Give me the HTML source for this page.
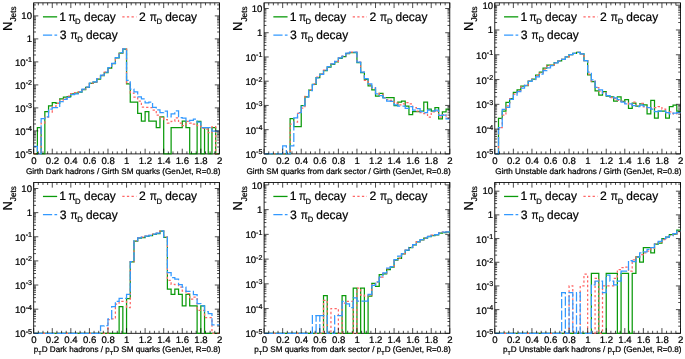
<!DOCTYPE html>
<html><head><meta charset="utf-8"><title>chart</title>
<style>html,body{margin:0;padding:0;background:#fff;}text{stroke:#000;stroke-width:0.22px}svg{display:block;will-change:transform;text-rendering:geometricPrecision;-webkit-font-smoothing:antialiased}</style></head>
<body><svg width="685" height="359" viewBox="0 0 685 359">
<rect width="685" height="359" fill="#fff"/>
<clipPath id="c1"><rect x="32.7" y="2.85" width="187.7" height="151.85000000000002"/></clipPath>
<rect x="33.7" y="2.85" width="185.7" height="151.05" fill="none" stroke="#000" stroke-width="0.85"/>
<g clip-path="url(#c1)" fill="none" stroke-linejoin="miter">
<path d="M33.70,153.90L37.41,153.90L37.41,127.50L41.13,127.50L41.13,153.90L44.84,153.90L44.84,111.70L48.56,111.70L48.56,105.90L52.27,105.90L52.27,102.50L55.98,102.50L55.98,103.40L59.70,103.40L59.70,98.90L63.41,98.90L63.41,97.10L67.13,97.10L67.13,96.50L70.84,96.50L70.84,93.90L74.55,93.90L74.55,93.00L78.27,93.00L78.27,92.20L81.98,92.20L81.98,89.50L85.70,89.50L85.70,87.40L89.41,87.40L89.41,83.40L93.12,83.40L93.12,82.20L96.84,82.20L96.84,79.00L100.55,79.00L100.55,75.50L104.27,75.50L104.27,72.50L107.98,72.50L107.98,68.10L111.69,68.10L111.69,63.70L115.41,63.70L115.41,57.90L119.12,57.90L119.12,53.00L122.84,53.00L122.84,49.20L126.55,49.20L126.55,83.90L130.26,83.90L130.26,102.00L133.98,102.00L133.98,102.00L137.69,102.00L137.69,113.40L141.41,113.40L141.41,121.00L145.12,121.00L145.12,111.70L148.83,111.70L148.83,121.00L152.55,121.00L152.55,121.00L156.26,121.00L156.26,127.50L159.98,127.50L159.98,116.90L163.69,116.90L163.69,153.90L167.40,153.90L167.40,153.90L171.12,153.90L171.12,127.50L174.83,127.50L174.83,127.50L178.55,127.50L178.55,127.50L182.26,127.50L182.26,121.00L185.97,121.00L185.97,127.50L189.69,127.50L189.69,153.90L193.40,153.90L193.40,153.90L197.12,153.90L197.12,121.30L200.83,121.30L200.83,153.90L204.54,153.90L204.54,127.50L208.26,127.50L208.26,153.90L211.97,153.90L211.97,127.50L215.69,127.50L215.69,153.90L219.40,153.90" stroke="#0a9a0a" stroke-width="1.25"/>
<path d="M33.70,153.90L37.41,153.90L37.41,153.90L41.13,153.90L41.13,123.00L44.84,123.00L44.84,117.00L48.56,117.00L48.56,112.00L52.27,112.00L52.27,106.40L55.98,106.40L55.98,103.40L59.70,103.40L59.70,100.00L63.41,100.00L63.41,98.30L67.13,98.30L67.13,96.10L70.84,96.10L70.84,93.50L74.55,93.50L74.55,92.60L78.27,92.60L78.27,91.80L81.98,91.80L81.98,89.10L85.70,89.10L85.70,87.00L89.41,87.00L89.41,83.00L93.12,83.00L93.12,81.80L96.84,81.80L96.84,78.60L100.55,78.60L100.55,75.10L104.27,75.10L104.27,72.10L107.98,72.10L107.98,67.70L111.69,67.70L111.69,63.30L115.41,63.30L115.41,57.50L119.12,57.50L119.12,52.60L122.84,52.60L122.84,48.80L126.55,48.80L126.55,83.00L130.26,83.00L130.26,93.00L133.98,93.00L133.98,97.00L137.69,97.00L137.69,101.00L141.41,101.00L141.41,107.00L145.12,107.00L145.12,107.30L148.83,107.30L148.83,107.60L152.55,107.60L152.55,110.00L156.26,110.00L156.26,115.20L159.98,115.20L159.98,117.00L163.69,117.00L163.69,119.60L167.40,119.60L167.40,123.00L171.12,123.00L171.12,121.30L174.83,121.30L174.83,117.80L178.55,117.80L178.55,123.00L182.26,123.00L182.26,125.70L185.97,125.70L185.97,121.30L189.69,121.30L189.69,123.00L193.40,123.00L193.40,124.00L197.12,124.00L197.12,125.70L200.83,125.70L200.83,128.30L204.54,128.30L204.54,129.20L208.26,129.20L208.26,132.70L211.97,132.70L211.97,126.60L215.69,126.60L215.69,153.90L219.40,153.90" stroke="#ff6666" stroke-width="1.25" stroke-dasharray="2.3,2.3"/>
<path d="M33.70,146.40L37.41,146.40L37.41,153.90L41.13,153.90L41.13,118.70L44.84,118.70L44.84,116.90L48.56,116.90L48.56,109.00L52.27,109.00L52.27,107.60L55.98,107.60L55.98,107.60L59.70,107.60L59.70,101.70L63.41,101.70L63.41,99.40L67.13,99.40L67.13,97.30L70.84,97.30L70.84,94.70L74.55,94.70L74.55,93.80L78.27,93.80L78.27,91.80L81.98,91.80L81.98,89.10L85.70,89.10L85.70,87.00L89.41,87.00L89.41,83.00L93.12,83.00L93.12,81.80L96.84,81.80L96.84,78.60L100.55,78.60L100.55,75.10L104.27,75.10L104.27,72.10L107.98,72.10L107.98,67.70L111.69,67.70L111.69,63.30L115.41,63.30L115.41,57.50L119.12,57.50L119.12,52.60L122.84,52.60L122.84,48.80L126.55,48.80L126.55,80.40L130.26,80.40L130.26,89.10L133.98,89.10L133.98,91.80L137.69,91.80L137.69,96.80L141.41,96.80L141.41,98.90L145.12,98.90L145.12,102.90L148.83,102.90L148.83,102.00L152.55,102.00L152.55,107.30L156.26,107.30L156.26,109.90L159.98,109.90L159.98,112.50L163.69,112.50L163.69,111.10L167.40,111.10L167.40,116.90L171.12,116.90L171.12,113.90L174.83,113.90L174.83,110.80L178.55,110.80L178.55,117.50L182.26,117.50L182.26,118.20L185.97,118.20L185.97,121.00L189.69,121.00L189.69,120.40L193.40,120.40L193.40,119.20L197.12,119.20L197.12,122.20L200.83,122.20L200.83,127.50L204.54,127.50L204.54,127.50L208.26,127.50L208.26,127.50L211.97,127.50L211.97,131.00L215.69,131.00L215.69,131.00L219.40,131.00" stroke="#3399ff" stroke-width="1.25" stroke-dasharray="9.2,2.3"/>
</g>
<path d="M33.70,153.9v-5.2M33.70,2.85v5.2M38.34,153.9v-2.5M38.34,2.85v2.5M42.98,153.9v-2.5M42.98,2.85v2.5M47.63,153.9v-2.5M47.63,2.85v2.5M52.27,153.9v-5.2M52.27,2.85v5.2M56.91,153.9v-2.5M56.91,2.85v2.5M61.55,153.9v-2.5M61.55,2.85v2.5M66.20,153.9v-2.5M66.20,2.85v2.5M70.84,153.9v-5.2M70.84,2.85v5.2M75.48,153.9v-2.5M75.48,2.85v2.5M80.12,153.9v-2.5M80.12,2.85v2.5M84.77,153.9v-2.5M84.77,2.85v2.5M89.41,153.9v-5.2M89.41,2.85v5.2M94.05,153.9v-2.5M94.05,2.85v2.5M98.69,153.9v-2.5M98.69,2.85v2.5M103.34,153.9v-2.5M103.34,2.85v2.5M107.98,153.9v-5.2M107.98,2.85v5.2M112.62,153.9v-2.5M112.62,2.85v2.5M117.27,153.9v-2.5M117.27,2.85v2.5M121.91,153.9v-2.5M121.91,2.85v2.5M126.55,153.9v-5.2M126.55,2.85v5.2M131.19,153.9v-2.5M131.19,2.85v2.5M135.83,153.9v-2.5M135.83,2.85v2.5M140.48,153.9v-2.5M140.48,2.85v2.5M145.12,153.9v-5.2M145.12,2.85v5.2M149.76,153.9v-2.5M149.76,2.85v2.5M154.41,153.9v-2.5M154.41,2.85v2.5M159.05,153.9v-2.5M159.05,2.85v2.5M163.69,153.9v-5.2M163.69,2.85v5.2M168.33,153.9v-2.5M168.33,2.85v2.5M172.98,153.9v-2.5M172.98,2.85v2.5M177.62,153.9v-2.5M177.62,2.85v2.5M182.26,153.9v-5.2M182.26,2.85v5.2M186.90,153.9v-2.5M186.90,2.85v2.5M191.54,153.9v-2.5M191.54,2.85v2.5M196.19,153.9v-2.5M196.19,2.85v2.5M200.83,153.9v-5.2M200.83,2.85v5.2M205.47,153.9v-2.5M205.47,2.85v2.5M210.12,153.9v-2.5M210.12,2.85v2.5M214.76,153.9v-2.5M214.76,2.85v2.5M219.40,153.9v-5.2M219.40,2.85v5.2M33.7,153.90h4.6M219.39999999999998,153.90h-4.6M33.7,146.98h2.3M219.39999999999998,146.98h-2.3M33.7,142.93h2.3M219.39999999999998,142.93h-2.3M33.7,140.05h2.3M219.39999999999998,140.05h-2.3M33.7,137.82h2.3M219.39999999999998,137.82h-2.3M33.7,136.00h2.3M219.39999999999998,136.00h-2.3M33.7,134.46h2.3M219.39999999999998,134.46h-2.3M33.7,133.13h2.3M219.39999999999998,133.13h-2.3M33.7,131.95h2.3M219.39999999999998,131.95h-2.3M33.7,130.90h4.6M219.39999999999998,130.90h-4.6M33.7,123.98h2.3M219.39999999999998,123.98h-2.3M33.7,119.93h2.3M219.39999999999998,119.93h-2.3M33.7,117.05h2.3M219.39999999999998,117.05h-2.3M33.7,114.82h2.3M219.39999999999998,114.82h-2.3M33.7,113.00h2.3M219.39999999999998,113.00h-2.3M33.7,111.46h2.3M219.39999999999998,111.46h-2.3M33.7,110.13h2.3M219.39999999999998,110.13h-2.3M33.7,108.95h2.3M219.39999999999998,108.95h-2.3M33.7,107.90h4.6M219.39999999999998,107.90h-4.6M33.7,100.98h2.3M219.39999999999998,100.98h-2.3M33.7,96.93h2.3M219.39999999999998,96.93h-2.3M33.7,94.05h2.3M219.39999999999998,94.05h-2.3M33.7,91.82h2.3M219.39999999999998,91.82h-2.3M33.7,90.00h2.3M219.39999999999998,90.00h-2.3M33.7,88.46h2.3M219.39999999999998,88.46h-2.3M33.7,87.13h2.3M219.39999999999998,87.13h-2.3M33.7,85.95h2.3M219.39999999999998,85.95h-2.3M33.7,84.90h4.6M219.39999999999998,84.90h-4.6M33.7,77.98h2.3M219.39999999999998,77.98h-2.3M33.7,73.93h2.3M219.39999999999998,73.93h-2.3M33.7,71.05h2.3M219.39999999999998,71.05h-2.3M33.7,68.82h2.3M219.39999999999998,68.82h-2.3M33.7,67.00h2.3M219.39999999999998,67.00h-2.3M33.7,65.46h2.3M219.39999999999998,65.46h-2.3M33.7,64.13h2.3M219.39999999999998,64.13h-2.3M33.7,62.95h2.3M219.39999999999998,62.95h-2.3M33.7,61.90h4.6M219.39999999999998,61.90h-4.6M33.7,54.98h2.3M219.39999999999998,54.98h-2.3M33.7,50.93h2.3M219.39999999999998,50.93h-2.3M33.7,48.05h2.3M219.39999999999998,48.05h-2.3M33.7,45.82h2.3M219.39999999999998,45.82h-2.3M33.7,44.00h2.3M219.39999999999998,44.00h-2.3M33.7,42.46h2.3M219.39999999999998,42.46h-2.3M33.7,41.13h2.3M219.39999999999998,41.13h-2.3M33.7,39.95h2.3M219.39999999999998,39.95h-2.3M33.7,38.90h4.6M219.39999999999998,38.90h-4.6M33.7,31.98h2.3M219.39999999999998,31.98h-2.3M33.7,27.93h2.3M219.39999999999998,27.93h-2.3M33.7,25.05h2.3M219.39999999999998,25.05h-2.3M33.7,22.82h2.3M219.39999999999998,22.82h-2.3M33.7,21.00h2.3M219.39999999999998,21.00h-2.3M33.7,19.46h2.3M219.39999999999998,19.46h-2.3M33.7,18.13h2.3M219.39999999999998,18.13h-2.3M33.7,16.95h2.3M219.39999999999998,16.95h-2.3M33.7,15.90h4.6M219.39999999999998,15.90h-4.6M33.7,8.98h2.3M219.39999999999998,8.98h-2.3M33.7,4.93h2.3M219.39999999999998,4.93h-2.3" stroke="#000" stroke-width="0.7" fill="none"/>
<text x="33.90" y="163.80" font-size="9.6" text-anchor="middle" font-family="Liberation Sans, sans-serif">0</text>
<text x="52.47" y="163.80" font-size="9.6" text-anchor="middle" font-family="Liberation Sans, sans-serif">0.2</text>
<text x="71.04" y="163.80" font-size="9.6" text-anchor="middle" font-family="Liberation Sans, sans-serif">0.4</text>
<text x="89.61" y="163.80" font-size="9.6" text-anchor="middle" font-family="Liberation Sans, sans-serif">0.6</text>
<text x="108.18" y="163.80" font-size="9.6" text-anchor="middle" font-family="Liberation Sans, sans-serif">0.8</text>
<text x="126.75" y="163.80" font-size="9.6" text-anchor="middle" font-family="Liberation Sans, sans-serif">1</text>
<text x="145.32" y="163.80" font-size="9.6" text-anchor="middle" font-family="Liberation Sans, sans-serif">1.2</text>
<text x="163.89" y="163.80" font-size="9.6" text-anchor="middle" font-family="Liberation Sans, sans-serif">1.4</text>
<text x="182.46" y="163.80" font-size="9.6" text-anchor="middle" font-family="Liberation Sans, sans-serif">1.6</text>
<text x="201.03" y="163.80" font-size="9.6" text-anchor="middle" font-family="Liberation Sans, sans-serif">1.8</text>
<text x="219.60" y="163.80" font-size="9.6" text-anchor="middle" font-family="Liberation Sans, sans-serif">2</text>
<text x="32.00" y="157.90" font-size="9.6" text-anchor="end" font-family="Liberation Sans, sans-serif">10<tspan font-size="7.1" dy="-3.6">-5</tspan></text>
<text x="32.00" y="134.90" font-size="9.6" text-anchor="end" font-family="Liberation Sans, sans-serif">10<tspan font-size="7.1" dy="-3.6">-4</tspan></text>
<text x="32.00" y="111.90" font-size="9.6" text-anchor="end" font-family="Liberation Sans, sans-serif">10<tspan font-size="7.1" dy="-3.6">-3</tspan></text>
<text x="32.00" y="88.90" font-size="9.6" text-anchor="end" font-family="Liberation Sans, sans-serif">10<tspan font-size="7.1" dy="-3.6">-2</tspan></text>
<text x="32.00" y="65.90" font-size="9.6" text-anchor="end" font-family="Liberation Sans, sans-serif">10<tspan font-size="7.1" dy="-3.6">-1</tspan></text>
<text x="32.00" y="41.90" font-size="9.6" text-anchor="end" font-family="Liberation Sans, sans-serif">1</text>
<text x="32.00" y="18.90" font-size="9.6" text-anchor="end" font-family="Liberation Sans, sans-serif">10</text>
<text x="220.40" y="174.20" font-size="8.15" text-anchor="end" font-family="Liberation Sans, sans-serif">Girth Dark hadrons / Girth SM quarks (GenJet, R=0.8)</text>
<text transform="translate(11.70,31.00) rotate(-90)" font-size="13" font-family="Liberation Sans, sans-serif">N<tspan font-size="8.3" dy="4.4">Jets</tspan></text>
<line x1="42.95" y1="16.85" x2="57.15" y2="16.85" stroke="#0a9a0a" stroke-width="1.3" /><text x="59.30" y="20.75" font-size="12.2" font-family="Liberation Sans, sans-serif">1</text><text x="68.50" y="20.75" font-size="12.2" textLength="7.1" lengthAdjust="spacingAndGlyphs" font-family="Liberation Sans, sans-serif">π</text><text x="75.10" y="24.15" font-size="7.7" font-family="Liberation Sans, sans-serif">D</text><text x="84.00" y="20.75" font-size="12.2" textLength="31.8" lengthAdjust="spacingAndGlyphs" font-family="Liberation Sans, sans-serif">decay</text>
<line x1="122.30" y1="16.85" x2="136.50" y2="16.85" stroke="#ff6666" stroke-width="1.3" stroke-dasharray="2.3,2.3"/><text x="139.00" y="20.75" font-size="12.2" font-family="Liberation Sans, sans-serif">2</text><text x="149.70" y="20.75" font-size="12.2" textLength="7.1" lengthAdjust="spacingAndGlyphs" font-family="Liberation Sans, sans-serif">π</text><text x="156.60" y="24.15" font-size="7.7" font-family="Liberation Sans, sans-serif">D</text><text x="165.20" y="20.75" font-size="12.2" textLength="31.8" lengthAdjust="spacingAndGlyphs" font-family="Liberation Sans, sans-serif">decay</text>
<line x1="42.95" y1="35.10" x2="57.15" y2="35.10" stroke="#3399ff" stroke-width="1.3" stroke-dasharray="9.2,2.3"/><text x="59.70" y="39.00" font-size="12.2" font-family="Liberation Sans, sans-serif">3</text><text x="70.40" y="39.00" font-size="12.2" textLength="7.1" lengthAdjust="spacingAndGlyphs" font-family="Liberation Sans, sans-serif">π</text><text x="77.30" y="42.40" font-size="7.7" font-family="Liberation Sans, sans-serif">D</text><text x="85.90" y="39.00" font-size="12.2" textLength="31.8" lengthAdjust="spacingAndGlyphs" font-family="Liberation Sans, sans-serif">decay</text>
<clipPath id="c2"><rect x="263.1" y="2.85" width="187.7" height="151.85000000000002"/></clipPath>
<rect x="264.1" y="2.85" width="185.7" height="151.05" fill="none" stroke="#000" stroke-width="0.85"/>
<g clip-path="url(#c2)" fill="none" stroke-linejoin="miter">
<path d="M264.10,153.90L267.81,153.90L267.81,153.90L271.53,153.90L271.53,153.90L275.24,153.90L275.24,153.90L278.96,153.90L278.96,153.90L282.67,153.90L282.67,153.90L286.38,153.90L286.38,153.90L290.10,153.90L290.10,118.70L293.81,118.70L293.81,126.60L297.53,126.60L297.53,126.60L301.24,126.60L301.24,105.50L304.95,105.50L304.95,96.90L308.67,96.90L308.67,90.20L312.38,90.20L312.38,84.30L316.10,84.30L316.10,77.60L319.81,77.60L319.81,74.10L323.52,74.10L323.52,70.60L327.24,70.60L327.24,67.10L330.95,67.10L330.95,64.40L334.67,64.40L334.67,61.80L338.38,61.80L338.38,58.30L342.09,58.30L342.09,56.60L345.81,56.60L345.81,53.60L349.52,53.60L349.52,52.50L353.24,52.50L353.24,52.50L356.95,52.50L356.95,62.70L360.66,62.70L360.66,72.70L364.38,72.70L364.38,79.40L368.09,79.40L368.09,85.90L371.81,85.90L371.81,89.90L375.52,89.90L375.52,96.10L379.23,96.10L379.23,93.40L382.95,93.40L382.95,97.50L386.66,97.50L386.66,97.50L390.38,97.50L390.38,97.50L394.09,97.50L394.09,105.70L397.80,105.70L397.80,102.20L401.52,102.20L401.52,101.00L405.23,101.00L405.23,106.20L408.95,106.20L408.95,114.50L412.66,114.50L412.66,111.50L416.37,111.50L416.37,111.50L420.09,111.50L420.09,111.00L423.80,111.00L423.80,102.20L427.52,102.20L427.52,109.20L431.23,109.20L431.23,111.00L434.94,111.00L434.94,107.50L438.66,107.50L438.66,118.90L442.37,118.90L442.37,111.80L446.09,111.80L446.09,109.20L449.80,109.20" stroke="#0a9a0a" stroke-width="1.25"/>
<path d="M264.10,153.90L267.81,153.90L267.81,153.90L271.53,153.90L271.53,153.90L275.24,153.90L275.24,153.90L278.96,153.90L278.96,153.90L282.67,153.90L282.67,153.90L286.38,153.90L286.38,153.90L290.10,153.90L290.10,124.00L293.81,124.00L293.81,122.00L297.53,122.00L297.53,113.40L301.24,113.40L301.24,108.00L304.95,108.00L304.95,96.40L308.67,96.40L308.67,89.70L312.38,89.70L312.38,83.80L316.10,83.80L316.10,77.10L319.81,77.10L319.81,73.60L323.52,73.60L323.52,70.10L327.24,70.10L327.24,66.60L330.95,66.60L330.95,63.90L334.67,63.90L334.67,61.30L338.38,61.30L338.38,57.80L342.09,57.80L342.09,56.10L345.81,56.10L345.81,53.10L349.52,53.10L349.52,52.00L353.24,52.00L353.24,52.00L356.95,52.00L356.95,62.20L360.66,62.20L360.66,72.20L364.38,72.20L364.38,80.30L368.09,80.30L368.09,84.60L371.81,84.60L371.81,88.20L375.52,88.20L375.52,93.40L379.23,93.40L379.23,94.30L382.95,94.30L382.95,97.50L386.66,97.50L386.66,99.60L390.38,99.60L390.38,100.40L394.09,100.40L394.09,103.10L397.80,103.10L397.80,104.80L401.52,104.80L401.52,103.90L405.23,103.90L405.23,102.70L408.95,102.70L408.95,103.90L412.66,103.90L412.66,107.50L416.37,107.50L416.37,111.00L420.09,111.00L420.09,112.70L423.80,112.70L423.80,113.60L427.52,113.60L427.52,117.10L431.23,117.10L431.23,111.80L434.94,111.80L434.94,111.00L438.66,111.00L438.66,117.10L442.37,117.10L442.37,114.50L446.09,114.50L446.09,118.00L449.80,118.00" stroke="#ff6666" stroke-width="1.25" stroke-dasharray="2.3,2.3"/>
<path d="M264.10,153.90L267.81,153.90L267.81,153.90L271.53,153.90L271.53,153.90L275.24,153.90L275.24,153.90L278.96,153.90L278.96,153.90L282.67,153.90L282.67,145.90L286.38,145.90L286.38,153.90L290.10,153.90L290.10,145.90L293.81,145.90L293.81,117.80L297.53,117.80L297.53,112.50L301.24,112.50L301.24,105.50L304.95,105.50L304.95,97.20L308.67,97.20L308.67,90.50L312.38,90.50L312.38,84.60L316.10,84.60L316.10,77.90L319.81,77.90L319.81,74.40L323.52,74.40L323.52,70.10L327.24,70.10L327.24,66.60L330.95,66.60L330.95,63.90L334.67,63.90L334.67,61.30L338.38,61.30L338.38,57.80L342.09,57.80L342.09,56.10L345.81,56.10L345.81,53.10L349.52,53.10L349.52,52.00L353.24,52.00L353.24,52.00L356.95,52.00L356.95,62.20L360.66,62.20L360.66,72.20L364.38,72.20L364.38,78.50L368.09,78.50L368.09,83.80L371.81,83.80L371.81,87.60L375.52,87.60L375.52,93.90L379.23,93.90L379.23,95.70L382.95,95.70L382.95,97.80L386.66,97.80L386.66,101.00L390.38,101.00L390.38,101.30L394.09,101.30L394.09,104.80L397.80,104.80L397.80,106.20L401.52,106.20L401.52,106.20L405.23,106.20L405.23,108.30L408.95,108.30L408.95,106.60L412.66,106.60L412.66,110.10L416.37,110.10L416.37,108.70L420.09,108.70L420.09,111.50L423.80,111.50L423.80,112.70L427.52,112.70L427.52,110.10L431.23,110.10L431.23,111.00L434.94,111.00L434.94,110.10L438.66,110.10L438.66,115.40L442.37,115.40L442.37,115.00L446.09,115.00L446.09,118.90L449.80,118.90" stroke="#3399ff" stroke-width="1.25" stroke-dasharray="9.2,2.3"/>
</g>
<path d="M264.10,153.9v-5.2M264.10,2.85v5.2M268.74,153.9v-2.5M268.74,2.85v2.5M273.39,153.9v-2.5M273.39,2.85v2.5M278.03,153.9v-2.5M278.03,2.85v2.5M282.67,153.9v-5.2M282.67,2.85v5.2M287.31,153.9v-2.5M287.31,2.85v2.5M291.96,153.9v-2.5M291.96,2.85v2.5M296.60,153.9v-2.5M296.60,2.85v2.5M301.24,153.9v-5.2M301.24,2.85v5.2M305.88,153.9v-2.5M305.88,2.85v2.5M310.53,153.9v-2.5M310.53,2.85v2.5M315.17,153.9v-2.5M315.17,2.85v2.5M319.81,153.9v-5.2M319.81,2.85v5.2M324.45,153.9v-2.5M324.45,2.85v2.5M329.10,153.9v-2.5M329.10,2.85v2.5M333.74,153.9v-2.5M333.74,2.85v2.5M338.38,153.9v-5.2M338.38,2.85v5.2M343.02,153.9v-2.5M343.02,2.85v2.5M347.67,153.9v-2.5M347.67,2.85v2.5M352.31,153.9v-2.5M352.31,2.85v2.5M356.95,153.9v-5.2M356.95,2.85v5.2M361.59,153.9v-2.5M361.59,2.85v2.5M366.24,153.9v-2.5M366.24,2.85v2.5M370.88,153.9v-2.5M370.88,2.85v2.5M375.52,153.9v-5.2M375.52,2.85v5.2M380.16,153.9v-2.5M380.16,2.85v2.5M384.81,153.9v-2.5M384.81,2.85v2.5M389.45,153.9v-2.5M389.45,2.85v2.5M394.09,153.9v-5.2M394.09,2.85v5.2M398.73,153.9v-2.5M398.73,2.85v2.5M403.38,153.9v-2.5M403.38,2.85v2.5M408.02,153.9v-2.5M408.02,2.85v2.5M412.66,153.9v-5.2M412.66,2.85v5.2M417.30,153.9v-2.5M417.30,2.85v2.5M421.94,153.9v-2.5M421.94,2.85v2.5M426.59,153.9v-2.5M426.59,2.85v2.5M431.23,153.9v-5.2M431.23,2.85v5.2M435.87,153.9v-2.5M435.87,2.85v2.5M440.51,153.9v-2.5M440.51,2.85v2.5M445.16,153.9v-2.5M445.16,2.85v2.5M449.80,153.9v-5.2M449.80,2.85v5.2M264.1,153.90h4.6M449.8,153.90h-4.6M264.1,146.61h2.3M449.8,146.61h-2.3M264.1,142.34h2.3M449.8,142.34h-2.3M264.1,139.31h2.3M449.8,139.31h-2.3M264.1,136.96h2.3M449.8,136.96h-2.3M264.1,135.04h2.3M449.8,135.04h-2.3M264.1,133.42h2.3M449.8,133.42h-2.3M264.1,132.02h2.3M449.8,132.02h-2.3M264.1,130.78h2.3M449.8,130.78h-2.3M264.1,129.67h4.6M449.8,129.67h-4.6M264.1,122.37h2.3M449.8,122.37h-2.3M264.1,118.10h2.3M449.8,118.10h-2.3M264.1,115.08h2.3M449.8,115.08h-2.3M264.1,112.73h2.3M449.8,112.73h-2.3M264.1,110.81h2.3M449.8,110.81h-2.3M264.1,109.19h2.3M449.8,109.19h-2.3M264.1,107.78h2.3M449.8,107.78h-2.3M264.1,106.54h2.3M449.8,106.54h-2.3M264.1,105.43h4.6M449.8,105.43h-4.6M264.1,98.14h2.3M449.8,98.14h-2.3M264.1,93.87h2.3M449.8,93.87h-2.3M264.1,90.84h2.3M449.8,90.84h-2.3M264.1,88.49h2.3M449.8,88.49h-2.3M264.1,86.58h2.3M449.8,86.58h-2.3M264.1,84.95h2.3M449.8,84.95h-2.3M264.1,83.55h2.3M449.8,83.55h-2.3M264.1,82.31h2.3M449.8,82.31h-2.3M264.1,81.20h4.6M449.8,81.20h-4.6M264.1,73.91h2.3M449.8,73.91h-2.3M264.1,69.64h2.3M449.8,69.64h-2.3M264.1,66.61h2.3M449.8,66.61h-2.3M264.1,64.26h2.3M449.8,64.26h-2.3M264.1,62.34h2.3M449.8,62.34h-2.3M264.1,60.72h2.3M449.8,60.72h-2.3M264.1,59.32h2.3M449.8,59.32h-2.3M264.1,58.08h2.3M449.8,58.08h-2.3M264.1,56.97h4.6M449.8,56.97h-4.6M264.1,49.67h2.3M449.8,49.67h-2.3M264.1,45.40h2.3M449.8,45.40h-2.3M264.1,42.38h2.3M449.8,42.38h-2.3M264.1,40.03h2.3M449.8,40.03h-2.3M264.1,38.11h2.3M449.8,38.11h-2.3M264.1,36.49h2.3M449.8,36.49h-2.3M264.1,35.08h2.3M449.8,35.08h-2.3M264.1,33.84h2.3M449.8,33.84h-2.3M264.1,32.73h4.6M449.8,32.73h-4.6M264.1,25.44h2.3M449.8,25.44h-2.3M264.1,21.17h2.3M449.8,21.17h-2.3M264.1,18.14h2.3M449.8,18.14h-2.3M264.1,15.79h2.3M449.8,15.79h-2.3M264.1,13.88h2.3M449.8,13.88h-2.3M264.1,12.25h2.3M449.8,12.25h-2.3M264.1,10.85h2.3M449.8,10.85h-2.3M264.1,9.61h2.3M449.8,9.61h-2.3M264.1,8.50h4.6M449.8,8.50h-4.6" stroke="#000" stroke-width="0.7" fill="none"/>
<text x="264.30" y="163.80" font-size="9.6" text-anchor="middle" font-family="Liberation Sans, sans-serif">0</text>
<text x="282.87" y="163.80" font-size="9.6" text-anchor="middle" font-family="Liberation Sans, sans-serif">0.2</text>
<text x="301.44" y="163.80" font-size="9.6" text-anchor="middle" font-family="Liberation Sans, sans-serif">0.4</text>
<text x="320.01" y="163.80" font-size="9.6" text-anchor="middle" font-family="Liberation Sans, sans-serif">0.6</text>
<text x="338.58" y="163.80" font-size="9.6" text-anchor="middle" font-family="Liberation Sans, sans-serif">0.8</text>
<text x="357.15" y="163.80" font-size="9.6" text-anchor="middle" font-family="Liberation Sans, sans-serif">1</text>
<text x="375.72" y="163.80" font-size="9.6" text-anchor="middle" font-family="Liberation Sans, sans-serif">1.2</text>
<text x="394.29" y="163.80" font-size="9.6" text-anchor="middle" font-family="Liberation Sans, sans-serif">1.4</text>
<text x="412.86" y="163.80" font-size="9.6" text-anchor="middle" font-family="Liberation Sans, sans-serif">1.6</text>
<text x="431.43" y="163.80" font-size="9.6" text-anchor="middle" font-family="Liberation Sans, sans-serif">1.8</text>
<text x="450.00" y="163.80" font-size="9.6" text-anchor="middle" font-family="Liberation Sans, sans-serif">2</text>
<text x="262.40" y="157.90" font-size="9.6" text-anchor="end" font-family="Liberation Sans, sans-serif">10<tspan font-size="7.1" dy="-3.6">-5</tspan></text>
<text x="262.40" y="133.67" font-size="9.6" text-anchor="end" font-family="Liberation Sans, sans-serif">10<tspan font-size="7.1" dy="-3.6">-4</tspan></text>
<text x="262.40" y="109.43" font-size="9.6" text-anchor="end" font-family="Liberation Sans, sans-serif">10<tspan font-size="7.1" dy="-3.6">-3</tspan></text>
<text x="262.40" y="85.20" font-size="9.6" text-anchor="end" font-family="Liberation Sans, sans-serif">10<tspan font-size="7.1" dy="-3.6">-2</tspan></text>
<text x="262.40" y="60.97" font-size="9.6" text-anchor="end" font-family="Liberation Sans, sans-serif">10<tspan font-size="7.1" dy="-3.6">-1</tspan></text>
<text x="262.40" y="35.73" font-size="9.6" text-anchor="end" font-family="Liberation Sans, sans-serif">1</text>
<text x="262.40" y="11.50" font-size="9.6" text-anchor="end" font-family="Liberation Sans, sans-serif">10</text>
<text x="450.80" y="174.20" font-size="8.15" text-anchor="end" font-family="Liberation Sans, sans-serif">Girth SM quarks from dark sector / Girth (GenJet, R=0.8)</text>
<text transform="translate(242.10,31.00) rotate(-90)" font-size="13" font-family="Liberation Sans, sans-serif">N<tspan font-size="8.3" dy="4.4">Jets</tspan></text>
<line x1="273.35" y1="16.85" x2="287.55" y2="16.85" stroke="#0a9a0a" stroke-width="1.3" /><text x="289.70" y="20.75" font-size="12.2" font-family="Liberation Sans, sans-serif">1</text><text x="298.90" y="20.75" font-size="12.2" textLength="7.1" lengthAdjust="spacingAndGlyphs" font-family="Liberation Sans, sans-serif">π</text><text x="305.50" y="24.15" font-size="7.7" font-family="Liberation Sans, sans-serif">D</text><text x="314.40" y="20.75" font-size="12.2" textLength="31.8" lengthAdjust="spacingAndGlyphs" font-family="Liberation Sans, sans-serif">decay</text>
<line x1="352.70" y1="16.85" x2="366.90" y2="16.85" stroke="#ff6666" stroke-width="1.3" stroke-dasharray="2.3,2.3"/><text x="369.40" y="20.75" font-size="12.2" font-family="Liberation Sans, sans-serif">2</text><text x="380.10" y="20.75" font-size="12.2" textLength="7.1" lengthAdjust="spacingAndGlyphs" font-family="Liberation Sans, sans-serif">π</text><text x="387.00" y="24.15" font-size="7.7" font-family="Liberation Sans, sans-serif">D</text><text x="395.60" y="20.75" font-size="12.2" textLength="31.8" lengthAdjust="spacingAndGlyphs" font-family="Liberation Sans, sans-serif">decay</text>
<line x1="273.35" y1="35.10" x2="287.55" y2="35.10" stroke="#3399ff" stroke-width="1.3" stroke-dasharray="9.2,2.3"/><text x="290.10" y="39.00" font-size="12.2" font-family="Liberation Sans, sans-serif">3</text><text x="300.80" y="39.00" font-size="12.2" textLength="7.1" lengthAdjust="spacingAndGlyphs" font-family="Liberation Sans, sans-serif">π</text><text x="307.70" y="42.40" font-size="7.7" font-family="Liberation Sans, sans-serif">D</text><text x="316.30" y="39.00" font-size="12.2" textLength="31.8" lengthAdjust="spacingAndGlyphs" font-family="Liberation Sans, sans-serif">decay</text>
<clipPath id="c3"><rect x="493.8" y="2.85" width="187.7" height="151.85000000000002"/></clipPath>
<rect x="494.8" y="2.85" width="185.7" height="151.05" fill="none" stroke="#000" stroke-width="0.85"/>
<g clip-path="url(#c3)" fill="none" stroke-linejoin="miter">
<path d="M494.80,153.90L498.51,153.90L498.51,118.30L502.23,118.30L502.23,111.10L505.94,111.10L505.94,102.40L509.66,102.40L509.66,98.50L513.37,98.50L513.37,92.40L517.08,92.40L517.08,89.80L520.80,89.80L520.80,86.20L524.51,86.20L524.51,85.70L528.23,85.70L528.23,81.00L531.94,81.00L531.94,79.20L535.65,79.20L535.65,75.20L539.37,75.20L539.37,72.20L543.08,72.20L543.08,68.20L546.80,68.20L546.80,65.20L550.51,65.20L550.51,65.20L554.22,65.20L554.22,62.60L557.94,62.60L557.94,60.80L561.65,60.80L561.65,59.40L565.37,59.40L565.37,56.90L569.08,56.90L569.08,54.70L572.79,54.70L572.79,53.40L576.51,53.40L576.51,52.40L580.22,52.40L580.22,53.80L583.94,53.80L583.94,60.50L587.65,60.50L587.65,74.80L591.36,74.80L591.36,81.70L595.08,81.70L595.08,90.80L598.79,90.80L598.79,95.20L602.51,95.20L602.51,91.70L606.22,91.70L606.22,96.10L609.93,96.10L609.93,96.90L613.65,96.90L613.65,101.00L617.36,101.00L617.36,96.90L621.08,96.90L621.08,101.30L624.79,101.30L624.79,99.60L628.50,99.60L628.50,108.30L632.22,108.30L632.22,103.10L635.93,103.10L635.93,106.20L639.65,106.20L639.65,103.90L643.36,103.90L643.36,104.80L647.07,104.80L647.07,113.90L650.79,113.90L650.79,100.40L654.50,100.40L654.50,118.00L658.22,118.00L658.22,111.00L661.93,111.00L661.93,111.00L665.64,111.00L665.64,118.00L669.36,118.00L669.36,106.60L673.07,106.60L673.07,105.20L676.79,105.20L676.79,111.00L680.50,111.00" stroke="#0a9a0a" stroke-width="1.25"/>
<path d="M494.80,153.90L498.51,153.90L498.51,127.50L502.23,127.50L502.23,115.20L505.94,115.20L505.94,105.90L509.66,105.90L509.66,98.50L513.37,98.50L513.37,94.10L517.08,94.10L517.08,90.60L520.80,90.60L520.80,86.80L524.51,86.80L524.51,85.00L528.23,85.00L528.23,81.00L531.94,81.00L531.94,79.20L535.65,79.20L535.65,75.70L539.37,75.70L539.37,73.10L543.08,73.10L543.08,69.20L546.80,69.20L546.80,65.70L550.51,65.70L550.51,65.20L554.22,65.20L554.22,62.60L557.94,62.60L557.94,60.80L561.65,60.80L561.65,59.40L565.37,59.40L565.37,56.90L569.08,56.90L569.08,54.70L572.79,54.70L572.79,53.40L576.51,53.40L576.51,52.40L580.22,52.40L580.22,53.80L583.94,53.80L583.94,60.50L587.65,60.50L587.65,74.00L591.36,74.00L591.36,81.10L595.08,81.10L595.08,87.60L598.79,87.60L598.79,91.10L602.51,91.10L602.51,92.50L606.22,92.50L606.22,95.70L609.93,95.70L609.93,97.50L613.65,97.50L613.65,98.70L617.36,98.70L617.36,100.40L621.08,100.40L621.08,101.30L624.79,101.30L624.79,103.10L628.50,103.10L628.50,104.50L632.22,104.50L632.22,102.20L635.93,102.20L635.93,105.70L639.65,105.70L639.65,103.40L643.36,103.40L643.36,106.90L647.07,106.90L647.07,108.30L650.79,108.30L650.79,107.50L654.50,107.50L654.50,107.50L658.22,107.50L658.22,106.60L661.93,106.60L661.93,109.20L665.64,109.20L665.64,112.70L669.36,112.70L669.36,111.80L673.07,111.80L673.07,113.90L676.79,113.90L676.79,113.20L680.50,113.20" stroke="#ff6666" stroke-width="1.25" stroke-dasharray="2.3,2.3"/>
<path d="M494.80,153.90L498.51,153.90L498.51,127.50L502.23,127.50L502.23,109.40L505.94,109.40L505.94,107.30L509.66,107.30L509.66,99.40L513.37,99.40L513.37,95.00L517.08,95.00L517.08,91.50L520.80,91.50L520.80,88.00L524.51,88.00L524.51,85.40L528.23,85.40L528.23,81.30L531.94,81.30L531.94,79.60L535.65,79.60L535.65,76.90L539.37,76.90L539.37,74.00L543.08,74.00L543.08,70.50L546.80,70.50L546.80,67.80L550.51,67.80L550.51,65.50L554.22,65.50L554.22,62.90L557.94,62.90L557.94,61.00L561.65,61.00L561.65,59.40L565.37,59.40L565.37,56.90L569.08,56.90L569.08,54.70L572.79,54.70L572.79,53.40L576.51,53.40L576.51,52.40L580.22,52.40L580.22,53.80L583.94,53.80L583.94,60.50L587.65,60.50L587.65,72.20L591.36,72.20L591.36,79.90L595.08,79.90L595.08,87.30L598.79,87.30L598.79,89.90L602.51,89.90L602.51,93.40L606.22,93.40L606.22,95.70L609.93,95.70L609.93,96.90L613.65,96.90L613.65,97.80L617.36,97.80L617.36,99.60L621.08,99.60L621.08,102.20L624.79,102.20L624.79,103.90L628.50,103.90L628.50,103.90L632.22,103.90L632.22,105.70L635.93,105.70L635.93,106.60L639.65,106.60L639.65,105.20L643.36,105.20L643.36,106.20L647.07,106.20L647.07,107.50L650.79,107.50L650.79,109.20L654.50,109.20L654.50,111.50L658.22,111.50L658.22,111.00L661.93,111.00L661.93,111.00L665.64,111.00L665.64,112.70L669.36,112.70L669.36,113.90L673.07,113.90L673.07,113.20L676.79,113.20L676.79,112.70L680.50,112.70" stroke="#3399ff" stroke-width="1.25" stroke-dasharray="9.2,2.3"/>
</g>
<path d="M494.80,153.9v-5.2M494.80,2.85v5.2M499.44,153.9v-2.5M499.44,2.85v2.5M504.09,153.9v-2.5M504.09,2.85v2.5M508.73,153.9v-2.5M508.73,2.85v2.5M513.37,153.9v-5.2M513.37,2.85v5.2M518.01,153.9v-2.5M518.01,2.85v2.5M522.65,153.9v-2.5M522.65,2.85v2.5M527.30,153.9v-2.5M527.30,2.85v2.5M531.94,153.9v-5.2M531.94,2.85v5.2M536.58,153.9v-2.5M536.58,2.85v2.5M541.23,153.9v-2.5M541.23,2.85v2.5M545.87,153.9v-2.5M545.87,2.85v2.5M550.51,153.9v-5.2M550.51,2.85v5.2M555.15,153.9v-2.5M555.15,2.85v2.5M559.79,153.9v-2.5M559.79,2.85v2.5M564.44,153.9v-2.5M564.44,2.85v2.5M569.08,153.9v-5.2M569.08,2.85v5.2M573.72,153.9v-2.5M573.72,2.85v2.5M578.37,153.9v-2.5M578.37,2.85v2.5M583.01,153.9v-2.5M583.01,2.85v2.5M587.65,153.9v-5.2M587.65,2.85v5.2M592.29,153.9v-2.5M592.29,2.85v2.5M596.93,153.9v-2.5M596.93,2.85v2.5M601.58,153.9v-2.5M601.58,2.85v2.5M606.22,153.9v-5.2M606.22,2.85v5.2M610.86,153.9v-2.5M610.86,2.85v2.5M615.50,153.9v-2.5M615.50,2.85v2.5M620.15,153.9v-2.5M620.15,2.85v2.5M624.79,153.9v-5.2M624.79,2.85v5.2M629.43,153.9v-2.5M629.43,2.85v2.5M634.08,153.9v-2.5M634.08,2.85v2.5M638.72,153.9v-2.5M638.72,2.85v2.5M643.36,153.9v-5.2M643.36,2.85v5.2M648.00,153.9v-2.5M648.00,2.85v2.5M652.64,153.9v-2.5M652.64,2.85v2.5M657.29,153.9v-2.5M657.29,2.85v2.5M661.93,153.9v-5.2M661.93,2.85v5.2M666.57,153.9v-2.5M666.57,2.85v2.5M671.22,153.9v-2.5M671.22,2.85v2.5M675.86,153.9v-2.5M675.86,2.85v2.5M680.50,153.9v-5.2M680.50,2.85v5.2M494.8,153.90h4.6M680.5,153.90h-4.6M494.8,146.44h2.3M680.5,146.44h-2.3M494.8,142.08h2.3M680.5,142.08h-2.3M494.8,138.98h2.3M680.5,138.98h-2.3M494.8,136.58h2.3M680.5,136.58h-2.3M494.8,134.61h2.3M680.5,134.61h-2.3M494.8,132.96h2.3M680.5,132.96h-2.3M494.8,131.52h2.3M680.5,131.52h-2.3M494.8,130.25h2.3M680.5,130.25h-2.3M494.8,129.12h4.6M680.5,129.12h-4.6M494.8,121.66h2.3M680.5,121.66h-2.3M494.8,117.29h2.3M680.5,117.29h-2.3M494.8,114.20h2.3M680.5,114.20h-2.3M494.8,111.79h2.3M680.5,111.79h-2.3M494.8,109.83h2.3M680.5,109.83h-2.3M494.8,108.17h2.3M680.5,108.17h-2.3M494.8,106.74h2.3M680.5,106.74h-2.3M494.8,105.47h2.3M680.5,105.47h-2.3M494.8,104.33h4.6M680.5,104.33h-4.6M494.8,96.87h2.3M680.5,96.87h-2.3M494.8,92.51h2.3M680.5,92.51h-2.3M494.8,89.41h2.3M680.5,89.41h-2.3M494.8,87.01h2.3M680.5,87.01h-2.3M494.8,85.05h2.3M680.5,85.05h-2.3M494.8,83.39h2.3M680.5,83.39h-2.3M494.8,81.95h2.3M680.5,81.95h-2.3M494.8,80.68h2.3M680.5,80.68h-2.3M494.8,79.55h4.6M680.5,79.55h-4.6M494.8,72.09h2.3M680.5,72.09h-2.3M494.8,67.73h2.3M680.5,67.73h-2.3M494.8,64.63h2.3M680.5,64.63h-2.3M494.8,62.23h2.3M680.5,62.23h-2.3M494.8,60.26h2.3M680.5,60.26h-2.3M494.8,58.61h2.3M680.5,58.61h-2.3M494.8,57.17h2.3M680.5,57.17h-2.3M494.8,55.90h2.3M680.5,55.90h-2.3M494.8,54.77h4.6M680.5,54.77h-4.6M494.8,47.31h2.3M680.5,47.31h-2.3M494.8,42.94h2.3M680.5,42.94h-2.3M494.8,39.85h2.3M680.5,39.85h-2.3M494.8,37.44h2.3M680.5,37.44h-2.3M494.8,35.48h2.3M680.5,35.48h-2.3M494.8,33.82h2.3M680.5,33.82h-2.3M494.8,32.39h2.3M680.5,32.39h-2.3M494.8,31.12h2.3M680.5,31.12h-2.3M494.8,29.98h4.6M680.5,29.98h-4.6M494.8,22.52h2.3M680.5,22.52h-2.3M494.8,18.16h2.3M680.5,18.16h-2.3M494.8,15.06h2.3M680.5,15.06h-2.3M494.8,12.66h2.3M680.5,12.66h-2.3M494.8,10.70h2.3M680.5,10.70h-2.3M494.8,9.04h2.3M680.5,9.04h-2.3M494.8,7.60h2.3M680.5,7.60h-2.3M494.8,6.33h2.3M680.5,6.33h-2.3M494.8,5.20h4.6M680.5,5.20h-4.6" stroke="#000" stroke-width="0.7" fill="none"/>
<text x="495.00" y="163.80" font-size="9.6" text-anchor="middle" font-family="Liberation Sans, sans-serif">0</text>
<text x="513.57" y="163.80" font-size="9.6" text-anchor="middle" font-family="Liberation Sans, sans-serif">0.2</text>
<text x="532.14" y="163.80" font-size="9.6" text-anchor="middle" font-family="Liberation Sans, sans-serif">0.4</text>
<text x="550.71" y="163.80" font-size="9.6" text-anchor="middle" font-family="Liberation Sans, sans-serif">0.6</text>
<text x="569.28" y="163.80" font-size="9.6" text-anchor="middle" font-family="Liberation Sans, sans-serif">0.8</text>
<text x="587.85" y="163.80" font-size="9.6" text-anchor="middle" font-family="Liberation Sans, sans-serif">1</text>
<text x="606.42" y="163.80" font-size="9.6" text-anchor="middle" font-family="Liberation Sans, sans-serif">1.2</text>
<text x="624.99" y="163.80" font-size="9.6" text-anchor="middle" font-family="Liberation Sans, sans-serif">1.4</text>
<text x="643.56" y="163.80" font-size="9.6" text-anchor="middle" font-family="Liberation Sans, sans-serif">1.6</text>
<text x="662.13" y="163.80" font-size="9.6" text-anchor="middle" font-family="Liberation Sans, sans-serif">1.8</text>
<text x="680.70" y="163.80" font-size="9.6" text-anchor="middle" font-family="Liberation Sans, sans-serif">2</text>
<text x="493.10" y="157.90" font-size="9.6" text-anchor="end" font-family="Liberation Sans, sans-serif">10<tspan font-size="7.1" dy="-3.6">-5</tspan></text>
<text x="493.10" y="133.12" font-size="9.6" text-anchor="end" font-family="Liberation Sans, sans-serif">10<tspan font-size="7.1" dy="-3.6">-4</tspan></text>
<text x="493.10" y="108.33" font-size="9.6" text-anchor="end" font-family="Liberation Sans, sans-serif">10<tspan font-size="7.1" dy="-3.6">-3</tspan></text>
<text x="493.10" y="83.55" font-size="9.6" text-anchor="end" font-family="Liberation Sans, sans-serif">10<tspan font-size="7.1" dy="-3.6">-2</tspan></text>
<text x="493.10" y="58.77" font-size="9.6" text-anchor="end" font-family="Liberation Sans, sans-serif">10<tspan font-size="7.1" dy="-3.6">-1</tspan></text>
<text x="493.10" y="32.98" font-size="9.6" text-anchor="end" font-family="Liberation Sans, sans-serif">1</text>
<text x="493.10" y="9.40" font-size="9.6" text-anchor="end" font-family="Liberation Sans, sans-serif">10</text>
<text x="681.50" y="174.20" font-size="8.15" text-anchor="end" font-family="Liberation Sans, sans-serif">Girth Unstable dark hadrons / Girth (GenJet, R=0.8)</text>
<text transform="translate(472.80,31.00) rotate(-90)" font-size="13" font-family="Liberation Sans, sans-serif">N<tspan font-size="8.3" dy="4.4">Jets</tspan></text>
<line x1="504.05" y1="16.85" x2="518.25" y2="16.85" stroke="#0a9a0a" stroke-width="1.3" /><text x="520.40" y="20.75" font-size="12.2" font-family="Liberation Sans, sans-serif">1</text><text x="529.60" y="20.75" font-size="12.2" textLength="7.1" lengthAdjust="spacingAndGlyphs" font-family="Liberation Sans, sans-serif">π</text><text x="536.20" y="24.15" font-size="7.7" font-family="Liberation Sans, sans-serif">D</text><text x="545.10" y="20.75" font-size="12.2" textLength="31.8" lengthAdjust="spacingAndGlyphs" font-family="Liberation Sans, sans-serif">decay</text>
<line x1="583.40" y1="16.85" x2="597.60" y2="16.85" stroke="#ff6666" stroke-width="1.3" stroke-dasharray="2.3,2.3"/><text x="600.10" y="20.75" font-size="12.2" font-family="Liberation Sans, sans-serif">2</text><text x="610.80" y="20.75" font-size="12.2" textLength="7.1" lengthAdjust="spacingAndGlyphs" font-family="Liberation Sans, sans-serif">π</text><text x="617.70" y="24.15" font-size="7.7" font-family="Liberation Sans, sans-serif">D</text><text x="626.30" y="20.75" font-size="12.2" textLength="31.8" lengthAdjust="spacingAndGlyphs" font-family="Liberation Sans, sans-serif">decay</text>
<line x1="504.05" y1="35.10" x2="518.25" y2="35.10" stroke="#3399ff" stroke-width="1.3" stroke-dasharray="9.2,2.3"/><text x="520.80" y="39.00" font-size="12.2" font-family="Liberation Sans, sans-serif">3</text><text x="531.50" y="39.00" font-size="12.2" textLength="7.1" lengthAdjust="spacingAndGlyphs" font-family="Liberation Sans, sans-serif">π</text><text x="538.40" y="42.40" font-size="7.7" font-family="Liberation Sans, sans-serif">D</text><text x="547.00" y="39.00" font-size="12.2" textLength="31.8" lengthAdjust="spacingAndGlyphs" font-family="Liberation Sans, sans-serif">decay</text>
<clipPath id="c4"><rect x="32.7" y="182.45" width="187.7" height="151.65000000000003"/></clipPath>
<rect x="33.7" y="182.45" width="185.7" height="150.85000000000002" fill="none" stroke="#000" stroke-width="0.85"/>
<g clip-path="url(#c4)" fill="none" stroke-linejoin="miter">
<path d="M33.70,333.30L37.41,333.30L37.41,333.30L41.13,333.30L41.13,333.30L44.84,333.30L44.84,333.30L48.56,333.30L48.56,333.30L52.27,333.30L52.27,333.30L55.98,333.30L55.98,333.30L59.70,333.30L59.70,333.30L63.41,333.30L63.41,333.30L67.13,333.30L67.13,333.30L70.84,333.30L70.84,333.30L74.55,333.30L74.55,333.30L78.27,333.30L78.27,333.30L81.98,333.30L81.98,333.30L85.70,333.30L85.70,333.30L89.41,333.30L89.41,333.30L93.12,333.30L93.12,333.30L96.84,333.30L96.84,333.30L100.55,333.30L100.55,333.30L104.27,333.30L104.27,333.30L107.98,333.30L107.98,333.30L111.69,333.30L111.69,333.30L115.41,333.30L115.41,333.30L119.12,333.30L119.12,306.60L122.84,306.60L122.84,333.30L126.55,333.30L126.55,298.60L130.26,298.60L130.26,261.90L133.98,261.90L133.98,241.00L137.69,241.00L137.69,238.20L141.41,238.20L141.41,237.50L145.12,237.50L145.12,236.40L148.83,236.40L148.83,235.70L152.55,235.70L152.55,234.30L156.26,234.30L156.26,233.50L159.98,233.50L159.98,231.20L163.69,231.20L163.69,237.30L167.40,237.30L167.40,289.00L171.12,289.00L171.12,294.30L174.83,294.30L174.83,289.00L178.55,289.00L178.55,294.30L182.26,294.30L182.26,305.90L185.97,305.90L185.97,294.30L189.69,294.30L189.69,305.90L193.40,305.90L193.40,305.90L197.12,305.90L197.12,333.30L200.83,333.30L200.83,305.90L204.54,305.90L204.54,333.30L208.26,333.30L208.26,333.30L211.97,333.30L211.97,333.30L215.69,333.30L215.69,333.30L219.40,333.30" stroke="#0a9a0a" stroke-width="1.25"/>
<path d="M33.70,333.30L37.41,333.30L37.41,333.30L41.13,333.30L41.13,333.30L44.84,333.30L44.84,333.30L48.56,333.30L48.56,333.30L52.27,333.30L52.27,333.30L55.98,333.30L55.98,333.30L59.70,333.30L59.70,333.30L63.41,333.30L63.41,333.30L67.13,333.30L67.13,333.30L70.84,333.30L70.84,333.30L74.55,333.30L74.55,333.30L78.27,333.30L78.27,333.30L81.98,333.30L81.98,333.30L85.70,333.30L85.70,333.30L89.41,333.30L89.41,333.30L93.12,333.30L93.12,333.30L96.84,333.30L96.84,333.30L100.55,333.30L100.55,333.30L104.27,333.30L104.27,333.30L107.98,333.30L107.98,319.70L111.69,319.70L111.69,318.90L115.41,318.90L115.41,304.00L119.12,304.00L119.12,301.30L122.84,301.30L122.84,301.30L126.55,301.30L126.55,307.50L130.26,307.50L130.26,261.60L133.98,261.60L133.98,240.70L137.69,240.70L137.69,237.90L141.41,237.90L141.41,237.20L145.12,237.20L145.12,236.10L148.83,236.10L148.83,235.40L152.55,235.40L152.55,234.00L156.26,234.00L156.26,233.20L159.98,233.20L159.98,230.90L163.69,230.90L163.69,237.00L167.40,237.00L167.40,280.30L171.12,280.30L171.12,284.30L174.83,284.30L174.83,284.70L178.55,284.70L178.55,287.00L182.26,287.00L182.26,291.00L185.97,291.00L185.97,293.60L189.69,293.60L189.69,299.20L193.40,299.20L193.40,297.00L197.12,297.00L197.12,310.30L200.83,310.30L200.83,310.30L204.54,310.30L204.54,317.70L208.26,317.70L208.26,317.70L211.97,317.70L211.97,333.30L215.69,333.30L215.69,333.30L219.40,333.30" stroke="#ff6666" stroke-width="1.25" stroke-dasharray="2.3,2.3"/>
<path d="M33.70,333.30L37.41,333.30L37.41,333.30L41.13,333.30L41.13,333.30L44.84,333.30L44.84,333.30L48.56,333.30L48.56,333.30L52.27,333.30L52.27,333.30L55.98,333.30L55.98,333.30L59.70,333.30L59.70,333.30L63.41,333.30L63.41,333.30L67.13,333.30L67.13,333.30L70.84,333.30L70.84,333.30L74.55,333.30L74.55,333.30L78.27,333.30L78.27,333.30L81.98,333.30L81.98,333.30L85.70,333.30L85.70,333.30L89.41,333.30L89.41,333.30L93.12,333.30L93.12,333.30L96.84,333.30L96.84,333.30L100.55,333.30L100.55,325.90L104.27,325.90L104.27,325.50L107.98,325.50L107.98,318.90L111.69,318.90L111.69,306.60L115.41,306.60L115.41,301.30L119.12,301.30L119.12,298.30L122.84,298.30L122.84,298.30L126.55,298.30L126.55,294.30L130.26,294.30L130.26,261.60L133.98,261.60L133.98,240.70L137.69,240.70L137.69,237.90L141.41,237.90L141.41,237.20L145.12,237.20L145.12,236.10L148.83,236.10L148.83,235.40L152.55,235.40L152.55,234.00L156.26,234.00L156.26,233.20L159.98,233.20L159.98,230.90L163.69,230.90L163.69,237.00L167.40,237.00L167.40,272.50L171.12,272.50L171.12,277.60L174.83,277.60L174.83,279.20L178.55,279.20L178.55,284.70L182.26,284.70L182.26,287.00L185.97,287.00L185.97,291.40L189.69,291.40L189.69,291.40L193.40,291.40L193.40,294.70L197.12,294.70L197.12,303.70L200.83,303.70L200.83,305.90L204.54,305.90L204.54,311.50L208.26,311.50L208.26,313.70L211.97,313.70L211.97,324.80L215.69,324.80L215.69,324.80L219.40,324.80" stroke="#3399ff" stroke-width="1.25" stroke-dasharray="9.2,2.3"/>
</g>
<path d="M33.70,333.3v-5.2M33.70,182.45v5.2M38.34,333.3v-2.5M38.34,182.45v2.5M42.98,333.3v-2.5M42.98,182.45v2.5M47.63,333.3v-2.5M47.63,182.45v2.5M52.27,333.3v-5.2M52.27,182.45v5.2M56.91,333.3v-2.5M56.91,182.45v2.5M61.55,333.3v-2.5M61.55,182.45v2.5M66.20,333.3v-2.5M66.20,182.45v2.5M70.84,333.3v-5.2M70.84,182.45v5.2M75.48,333.3v-2.5M75.48,182.45v2.5M80.12,333.3v-2.5M80.12,182.45v2.5M84.77,333.3v-2.5M84.77,182.45v2.5M89.41,333.3v-5.2M89.41,182.45v5.2M94.05,333.3v-2.5M94.05,182.45v2.5M98.69,333.3v-2.5M98.69,182.45v2.5M103.34,333.3v-2.5M103.34,182.45v2.5M107.98,333.3v-5.2M107.98,182.45v5.2M112.62,333.3v-2.5M112.62,182.45v2.5M117.27,333.3v-2.5M117.27,182.45v2.5M121.91,333.3v-2.5M121.91,182.45v2.5M126.55,333.3v-5.2M126.55,182.45v5.2M131.19,333.3v-2.5M131.19,182.45v2.5M135.83,333.3v-2.5M135.83,182.45v2.5M140.48,333.3v-2.5M140.48,182.45v2.5M145.12,333.3v-5.2M145.12,182.45v5.2M149.76,333.3v-2.5M149.76,182.45v2.5M154.41,333.3v-2.5M154.41,182.45v2.5M159.05,333.3v-2.5M159.05,182.45v2.5M163.69,333.3v-5.2M163.69,182.45v5.2M168.33,333.3v-2.5M168.33,182.45v2.5M172.98,333.3v-2.5M172.98,182.45v2.5M177.62,333.3v-2.5M177.62,182.45v2.5M182.26,333.3v-5.2M182.26,182.45v5.2M186.90,333.3v-2.5M186.90,182.45v2.5M191.54,333.3v-2.5M191.54,182.45v2.5M196.19,333.3v-2.5M196.19,182.45v2.5M200.83,333.3v-5.2M200.83,182.45v5.2M205.47,333.3v-2.5M205.47,182.45v2.5M210.12,333.3v-2.5M210.12,182.45v2.5M214.76,333.3v-2.5M214.76,182.45v2.5M219.40,333.3v-5.2M219.40,182.45v5.2M33.7,333.30h4.6M219.39999999999998,333.30h-4.6M33.7,326.04h2.3M219.39999999999998,326.04h-2.3M33.7,321.79h2.3M219.39999999999998,321.79h-2.3M33.7,318.77h2.3M219.39999999999998,318.77h-2.3M33.7,316.43h2.3M219.39999999999998,316.43h-2.3M33.7,314.52h2.3M219.39999999999998,314.52h-2.3M33.7,312.90h2.3M219.39999999999998,312.90h-2.3M33.7,311.51h2.3M219.39999999999998,311.51h-2.3M33.7,310.27h2.3M219.39999999999998,310.27h-2.3M33.7,309.17h4.6M219.39999999999998,309.17h-4.6M33.7,301.90h2.3M219.39999999999998,301.90h-2.3M33.7,297.65h2.3M219.39999999999998,297.65h-2.3M33.7,294.64h2.3M219.39999999999998,294.64h-2.3M33.7,292.30h2.3M219.39999999999998,292.30h-2.3M33.7,290.39h2.3M219.39999999999998,290.39h-2.3M33.7,288.77h2.3M219.39999999999998,288.77h-2.3M33.7,287.37h2.3M219.39999999999998,287.37h-2.3M33.7,286.14h2.3M219.39999999999998,286.14h-2.3M33.7,285.03h4.6M219.39999999999998,285.03h-4.6M33.7,277.77h2.3M219.39999999999998,277.77h-2.3M33.7,273.52h2.3M219.39999999999998,273.52h-2.3M33.7,270.50h2.3M219.39999999999998,270.50h-2.3M33.7,268.16h2.3M219.39999999999998,268.16h-2.3M33.7,266.25h2.3M219.39999999999998,266.25h-2.3M33.7,264.64h2.3M219.39999999999998,264.64h-2.3M33.7,263.24h2.3M219.39999999999998,263.24h-2.3M33.7,262.00h2.3M219.39999999999998,262.00h-2.3M33.7,260.90h4.6M219.39999999999998,260.90h-4.6M33.7,253.64h2.3M219.39999999999998,253.64h-2.3M33.7,249.39h2.3M219.39999999999998,249.39h-2.3M33.7,246.37h2.3M219.39999999999998,246.37h-2.3M33.7,244.03h2.3M219.39999999999998,244.03h-2.3M33.7,242.12h2.3M219.39999999999998,242.12h-2.3M33.7,240.50h2.3M219.39999999999998,240.50h-2.3M33.7,239.11h2.3M219.39999999999998,239.11h-2.3M33.7,237.87h2.3M219.39999999999998,237.87h-2.3M33.7,236.77h4.6M219.39999999999998,236.77h-4.6M33.7,229.50h2.3M219.39999999999998,229.50h-2.3M33.7,225.25h2.3M219.39999999999998,225.25h-2.3M33.7,222.24h2.3M219.39999999999998,222.24h-2.3M33.7,219.90h2.3M219.39999999999998,219.90h-2.3M33.7,217.99h2.3M219.39999999999998,217.99h-2.3M33.7,216.37h2.3M219.39999999999998,216.37h-2.3M33.7,214.97h2.3M219.39999999999998,214.97h-2.3M33.7,213.74h2.3M219.39999999999998,213.74h-2.3M33.7,212.63h4.6M219.39999999999998,212.63h-4.6M33.7,205.37h2.3M219.39999999999998,205.37h-2.3M33.7,201.12h2.3M219.39999999999998,201.12h-2.3M33.7,198.10h2.3M219.39999999999998,198.10h-2.3M33.7,195.76h2.3M219.39999999999998,195.76h-2.3M33.7,193.85h2.3M219.39999999999998,193.85h-2.3M33.7,192.24h2.3M219.39999999999998,192.24h-2.3M33.7,190.84h2.3M219.39999999999998,190.84h-2.3M33.7,189.60h2.3M219.39999999999998,189.60h-2.3M33.7,188.50h4.6M219.39999999999998,188.50h-4.6" stroke="#000" stroke-width="0.7" fill="none"/>
<text x="33.90" y="343.20" font-size="9.6" text-anchor="middle" font-family="Liberation Sans, sans-serif">0</text>
<text x="52.47" y="343.20" font-size="9.6" text-anchor="middle" font-family="Liberation Sans, sans-serif">0.2</text>
<text x="71.04" y="343.20" font-size="9.6" text-anchor="middle" font-family="Liberation Sans, sans-serif">0.4</text>
<text x="89.61" y="343.20" font-size="9.6" text-anchor="middle" font-family="Liberation Sans, sans-serif">0.6</text>
<text x="108.18" y="343.20" font-size="9.6" text-anchor="middle" font-family="Liberation Sans, sans-serif">0.8</text>
<text x="126.75" y="343.20" font-size="9.6" text-anchor="middle" font-family="Liberation Sans, sans-serif">1</text>
<text x="145.32" y="343.20" font-size="9.6" text-anchor="middle" font-family="Liberation Sans, sans-serif">1.2</text>
<text x="163.89" y="343.20" font-size="9.6" text-anchor="middle" font-family="Liberation Sans, sans-serif">1.4</text>
<text x="182.46" y="343.20" font-size="9.6" text-anchor="middle" font-family="Liberation Sans, sans-serif">1.6</text>
<text x="201.03" y="343.20" font-size="9.6" text-anchor="middle" font-family="Liberation Sans, sans-serif">1.8</text>
<text x="219.60" y="343.20" font-size="9.6" text-anchor="middle" font-family="Liberation Sans, sans-serif">2</text>
<text x="32.00" y="337.30" font-size="9.6" text-anchor="end" font-family="Liberation Sans, sans-serif">10<tspan font-size="7.1" dy="-3.6">-5</tspan></text>
<text x="32.00" y="313.17" font-size="9.6" text-anchor="end" font-family="Liberation Sans, sans-serif">10<tspan font-size="7.1" dy="-3.6">-4</tspan></text>
<text x="32.00" y="289.03" font-size="9.6" text-anchor="end" font-family="Liberation Sans, sans-serif">10<tspan font-size="7.1" dy="-3.6">-3</tspan></text>
<text x="32.00" y="264.90" font-size="9.6" text-anchor="end" font-family="Liberation Sans, sans-serif">10<tspan font-size="7.1" dy="-3.6">-2</tspan></text>
<text x="32.00" y="240.77" font-size="9.6" text-anchor="end" font-family="Liberation Sans, sans-serif">10<tspan font-size="7.1" dy="-3.6">-1</tspan></text>
<text x="32.00" y="215.63" font-size="9.6" text-anchor="end" font-family="Liberation Sans, sans-serif">1</text>
<text x="32.00" y="191.50" font-size="9.6" text-anchor="end" font-family="Liberation Sans, sans-serif">10</text>
<text x="220.40" y="352.10" font-size="8.15" text-anchor="end" font-family="Liberation Sans, sans-serif">p<tspan font-size="5.4" dy="3.2">T</tspan><tspan dy="-3.2">D Dark hadrons / </tspan>p<tspan font-size="5.4" dy="3.2">T</tspan><tspan dy="-3.2">D SM quarks (GenJet, R=0.8)</tspan></text>
<text transform="translate(11.70,210.60) rotate(-90)" font-size="13" font-family="Liberation Sans, sans-serif">N<tspan font-size="8.3" dy="4.4">Jets</tspan></text>
<line x1="42.95" y1="196.45" x2="57.15" y2="196.45" stroke="#0a9a0a" stroke-width="1.3" /><text x="59.30" y="200.35" font-size="12.2" font-family="Liberation Sans, sans-serif">1</text><text x="68.50" y="200.35" font-size="12.2" textLength="7.1" lengthAdjust="spacingAndGlyphs" font-family="Liberation Sans, sans-serif">π</text><text x="75.10" y="203.75" font-size="7.7" font-family="Liberation Sans, sans-serif">D</text><text x="84.00" y="200.35" font-size="12.2" textLength="31.8" lengthAdjust="spacingAndGlyphs" font-family="Liberation Sans, sans-serif">decay</text>
<line x1="122.30" y1="196.45" x2="136.50" y2="196.45" stroke="#ff6666" stroke-width="1.3" stroke-dasharray="2.3,2.3"/><text x="139.00" y="200.35" font-size="12.2" font-family="Liberation Sans, sans-serif">2</text><text x="149.70" y="200.35" font-size="12.2" textLength="7.1" lengthAdjust="spacingAndGlyphs" font-family="Liberation Sans, sans-serif">π</text><text x="156.60" y="203.75" font-size="7.7" font-family="Liberation Sans, sans-serif">D</text><text x="165.20" y="200.35" font-size="12.2" textLength="31.8" lengthAdjust="spacingAndGlyphs" font-family="Liberation Sans, sans-serif">decay</text>
<line x1="42.95" y1="214.70" x2="57.15" y2="214.70" stroke="#3399ff" stroke-width="1.3" stroke-dasharray="9.2,2.3"/><text x="59.70" y="218.60" font-size="12.2" font-family="Liberation Sans, sans-serif">3</text><text x="70.40" y="218.60" font-size="12.2" textLength="7.1" lengthAdjust="spacingAndGlyphs" font-family="Liberation Sans, sans-serif">π</text><text x="77.30" y="222.00" font-size="7.7" font-family="Liberation Sans, sans-serif">D</text><text x="85.90" y="218.60" font-size="12.2" textLength="31.8" lengthAdjust="spacingAndGlyphs" font-family="Liberation Sans, sans-serif">decay</text>
<clipPath id="c5"><rect x="263.1" y="182.45" width="187.7" height="151.65000000000003"/></clipPath>
<rect x="264.1" y="182.45" width="185.7" height="150.85000000000002" fill="none" stroke="#000" stroke-width="0.85"/>
<g clip-path="url(#c5)" fill="none" stroke-linejoin="miter">
<path d="M264.10,333.30L267.81,333.30L267.81,333.30L271.53,333.30L271.53,333.30L275.24,333.30L275.24,333.30L278.96,333.30L278.96,333.30L282.67,333.30L282.67,333.30L286.38,333.30L286.38,333.30L290.10,333.30L290.10,333.30L293.81,333.30L293.81,333.30L297.53,333.30L297.53,333.30L301.24,333.30L301.24,333.30L304.95,333.30L304.95,333.30L308.67,333.30L308.67,333.30L312.38,333.30L312.38,333.30L316.10,333.30L316.10,333.30L319.81,333.30L319.81,333.30L323.52,333.30L323.52,295.70L327.24,295.70L327.24,333.30L330.95,333.30L330.95,333.30L334.67,333.30L334.67,333.30L338.38,333.30L338.38,333.30L342.09,333.30L342.09,295.70L345.81,295.70L345.81,333.30L349.52,333.30L349.52,333.30L353.24,333.30L353.24,288.20L356.95,288.20L356.95,333.30L360.66,333.30L360.66,288.20L364.38,288.20L364.38,333.30L368.09,333.30L368.09,296.00L371.81,296.00L371.81,283.40L375.52,283.40L375.52,286.30L379.23,286.30L379.23,274.50L382.95,274.50L382.95,273.80L386.66,273.80L386.66,269.70L390.38,269.70L390.38,267.00L394.09,267.00L394.09,260.00L397.80,260.00L397.80,258.30L401.52,258.30L401.52,253.90L405.23,253.90L405.23,250.40L408.95,250.40L408.95,247.70L412.66,247.70L412.66,244.80L416.37,244.80L416.37,241.90L420.09,241.90L420.09,239.80L423.80,239.80L423.80,238.10L427.52,238.10L427.52,236.70L431.23,236.70L431.23,235.50L434.94,235.50L434.94,234.90L438.66,234.90L438.66,233.20L442.37,233.20L442.37,232.50L446.09,232.50L446.09,232.10L449.80,232.10" stroke="#0a9a0a" stroke-width="1.25"/>
<path d="M264.10,333.30L267.81,333.30L267.81,333.30L271.53,333.30L271.53,333.30L275.24,333.30L275.24,333.30L278.96,333.30L278.96,333.30L282.67,333.30L282.67,333.30L286.38,333.30L286.38,333.30L290.10,333.30L290.10,333.30L293.81,333.30L293.81,333.30L297.53,333.30L297.53,333.30L301.24,333.30L301.24,333.30L304.95,333.30L304.95,333.30L308.67,333.30L308.67,333.30L312.38,333.30L312.38,333.30L316.10,333.30L316.10,333.30L319.81,333.30L319.81,333.30L323.52,333.30L323.52,300.40L327.24,300.40L327.24,333.30L330.95,333.30L330.95,308.50L334.67,308.50L334.67,308.50L338.38,308.50L338.38,333.30L342.09,333.30L342.09,303.00L345.81,303.00L345.81,301.30L349.52,301.30L349.52,301.30L353.24,301.30L353.24,333.30L356.95,333.30L356.95,288.20L360.66,288.20L360.66,295.00L364.38,295.00L364.38,296.00L368.09,296.00L368.09,295.00L371.81,295.00L371.81,284.50L375.52,284.50L375.52,282.00L379.23,282.00L379.23,277.00L382.95,277.00L382.95,273.30L386.66,273.30L386.66,268.80L390.38,268.80L390.38,266.70L394.09,266.70L394.09,259.70L397.80,259.70L397.80,258.00L401.52,258.00L401.52,253.60L405.23,253.60L405.23,250.10L408.95,250.10L408.95,247.40L412.66,247.40L412.66,244.50L416.37,244.50L416.37,241.60L420.09,241.60L420.09,239.50L423.80,239.50L423.80,237.80L427.52,237.80L427.52,236.40L431.23,236.40L431.23,235.20L434.94,235.20L434.94,234.60L438.66,234.60L438.66,232.90L442.37,232.90L442.37,232.20L446.09,232.20L446.09,231.80L449.80,231.80" stroke="#ff6666" stroke-width="1.25" stroke-dasharray="2.3,2.3"/>
<path d="M264.10,333.30L267.81,333.30L267.81,333.30L271.53,333.30L271.53,333.30L275.24,333.30L275.24,333.30L278.96,333.30L278.96,333.30L282.67,333.30L282.67,333.30L286.38,333.30L286.38,333.30L290.10,333.30L290.10,333.30L293.81,333.30L293.81,333.30L297.53,333.30L297.53,333.30L301.24,333.30L301.24,333.30L304.95,333.30L304.95,333.30L308.67,333.30L308.67,333.30L312.38,333.30L312.38,315.50L316.10,315.50L316.10,315.50L319.81,315.50L319.81,315.50L323.52,315.50L323.52,315.50L327.24,315.50L327.24,333.30L330.95,333.30L330.95,333.30L334.67,333.30L334.67,315.50L338.38,315.50L338.38,315.50L342.09,315.50L342.09,301.30L345.81,301.30L345.81,303.90L349.52,303.90L349.52,307.50L353.24,307.50L353.24,297.80L356.95,297.80L356.95,301.00L360.66,301.00L360.66,301.00L364.38,301.00L364.38,301.00L368.09,301.00L368.09,294.30L371.81,294.30L371.81,285.30L375.52,285.30L375.52,281.80L379.23,281.80L379.23,277.00L382.95,277.00L382.95,272.90L386.66,272.90L386.66,268.00L390.38,268.00L390.38,266.70L394.09,266.70L394.09,259.70L397.80,259.70L397.80,256.20L401.52,256.20L401.52,253.60L405.23,253.60L405.23,250.10L408.95,250.10L408.95,247.40L412.66,247.40L412.66,244.50L416.37,244.50L416.37,241.60L420.09,241.60L420.09,239.50L423.80,239.50L423.80,237.80L427.52,237.80L427.52,236.40L431.23,236.40L431.23,235.20L434.94,235.20L434.94,234.60L438.66,234.60L438.66,232.90L442.37,232.90L442.37,232.20L446.09,232.20L446.09,231.80L449.80,231.80" stroke="#3399ff" stroke-width="1.25" stroke-dasharray="9.2,2.3"/>
<path d="M316.10,333.3V315.5" stroke="#3399ff" stroke-width="1.25" stroke-dasharray="9.2,2.3"/>
<path d="M319.81,333.3V315.5" stroke="#3399ff" stroke-width="1.25" stroke-dasharray="9.2,2.3"/>
</g>
<path d="M264.10,333.3v-5.2M264.10,182.45v5.2M268.74,333.3v-2.5M268.74,182.45v2.5M273.39,333.3v-2.5M273.39,182.45v2.5M278.03,333.3v-2.5M278.03,182.45v2.5M282.67,333.3v-5.2M282.67,182.45v5.2M287.31,333.3v-2.5M287.31,182.45v2.5M291.96,333.3v-2.5M291.96,182.45v2.5M296.60,333.3v-2.5M296.60,182.45v2.5M301.24,333.3v-5.2M301.24,182.45v5.2M305.88,333.3v-2.5M305.88,182.45v2.5M310.53,333.3v-2.5M310.53,182.45v2.5M315.17,333.3v-2.5M315.17,182.45v2.5M319.81,333.3v-5.2M319.81,182.45v5.2M324.45,333.3v-2.5M324.45,182.45v2.5M329.10,333.3v-2.5M329.10,182.45v2.5M333.74,333.3v-2.5M333.74,182.45v2.5M338.38,333.3v-5.2M338.38,182.45v5.2M343.02,333.3v-2.5M343.02,182.45v2.5M347.67,333.3v-2.5M347.67,182.45v2.5M352.31,333.3v-2.5M352.31,182.45v2.5M356.95,333.3v-5.2M356.95,182.45v5.2M361.59,333.3v-2.5M361.59,182.45v2.5M366.24,333.3v-2.5M366.24,182.45v2.5M370.88,333.3v-2.5M370.88,182.45v2.5M375.52,333.3v-5.2M375.52,182.45v5.2M380.16,333.3v-2.5M380.16,182.45v2.5M384.81,333.3v-2.5M384.81,182.45v2.5M389.45,333.3v-2.5M389.45,182.45v2.5M394.09,333.3v-5.2M394.09,182.45v5.2M398.73,333.3v-2.5M398.73,182.45v2.5M403.38,333.3v-2.5M403.38,182.45v2.5M408.02,333.3v-2.5M408.02,182.45v2.5M412.66,333.3v-5.2M412.66,182.45v5.2M417.30,333.3v-2.5M417.30,182.45v2.5M421.94,333.3v-2.5M421.94,182.45v2.5M426.59,333.3v-2.5M426.59,182.45v2.5M431.23,333.3v-5.2M431.23,182.45v5.2M435.87,333.3v-2.5M435.87,182.45v2.5M440.51,333.3v-2.5M440.51,182.45v2.5M445.16,333.3v-2.5M445.16,182.45v2.5M449.80,333.3v-5.2M449.80,182.45v5.2M264.1,333.30h4.6M449.8,333.30h-4.6M264.1,325.85h2.3M449.8,325.85h-2.3M264.1,321.50h2.3M449.8,321.50h-2.3M264.1,318.41h2.3M449.8,318.41h-2.3M264.1,316.01h2.3M449.8,316.01h-2.3M264.1,314.05h2.3M449.8,314.05h-2.3M264.1,312.40h2.3M449.8,312.40h-2.3M264.1,310.96h2.3M449.8,310.96h-2.3M264.1,309.70h2.3M449.8,309.70h-2.3M264.1,308.57h4.6M449.8,308.57h-4.6M264.1,301.12h2.3M449.8,301.12h-2.3M264.1,296.77h2.3M449.8,296.77h-2.3M264.1,293.68h2.3M449.8,293.68h-2.3M264.1,291.28h2.3M449.8,291.28h-2.3M264.1,289.32h2.3M449.8,289.32h-2.3M264.1,287.66h2.3M449.8,287.66h-2.3M264.1,286.23h2.3M449.8,286.23h-2.3M264.1,284.97h2.3M449.8,284.97h-2.3M264.1,283.83h4.6M449.8,283.83h-4.6M264.1,276.39h2.3M449.8,276.39h-2.3M264.1,272.03h2.3M449.8,272.03h-2.3M264.1,268.94h2.3M449.8,268.94h-2.3M264.1,266.55h2.3M449.8,266.55h-2.3M264.1,264.59h2.3M449.8,264.59h-2.3M264.1,262.93h2.3M449.8,262.93h-2.3M264.1,261.50h2.3M449.8,261.50h-2.3M264.1,260.23h2.3M449.8,260.23h-2.3M264.1,259.10h4.6M449.8,259.10h-4.6M264.1,251.65h2.3M449.8,251.65h-2.3M264.1,247.30h2.3M449.8,247.30h-2.3M264.1,244.21h2.3M449.8,244.21h-2.3M264.1,241.81h2.3M449.8,241.81h-2.3M264.1,239.85h2.3M449.8,239.85h-2.3M264.1,238.20h2.3M449.8,238.20h-2.3M264.1,236.76h2.3M449.8,236.76h-2.3M264.1,235.50h2.3M449.8,235.50h-2.3M264.1,234.37h4.6M449.8,234.37h-4.6M264.1,226.92h2.3M449.8,226.92h-2.3M264.1,222.57h2.3M449.8,222.57h-2.3M264.1,219.48h2.3M449.8,219.48h-2.3M264.1,217.08h2.3M449.8,217.08h-2.3M264.1,215.12h2.3M449.8,215.12h-2.3M264.1,213.46h2.3M449.8,213.46h-2.3M264.1,212.03h2.3M449.8,212.03h-2.3M264.1,210.77h2.3M449.8,210.77h-2.3M264.1,209.63h4.6M449.8,209.63h-4.6M264.1,202.19h2.3M449.8,202.19h-2.3M264.1,197.83h2.3M449.8,197.83h-2.3M264.1,194.74h2.3M449.8,194.74h-2.3M264.1,192.35h2.3M449.8,192.35h-2.3M264.1,190.39h2.3M449.8,190.39h-2.3M264.1,188.73h2.3M449.8,188.73h-2.3M264.1,187.30h2.3M449.8,187.30h-2.3M264.1,186.03h2.3M449.8,186.03h-2.3M264.1,184.90h4.6M449.8,184.90h-4.6" stroke="#000" stroke-width="0.7" fill="none"/>
<text x="264.30" y="343.20" font-size="9.6" text-anchor="middle" font-family="Liberation Sans, sans-serif">0</text>
<text x="282.87" y="343.20" font-size="9.6" text-anchor="middle" font-family="Liberation Sans, sans-serif">0.2</text>
<text x="301.44" y="343.20" font-size="9.6" text-anchor="middle" font-family="Liberation Sans, sans-serif">0.4</text>
<text x="320.01" y="343.20" font-size="9.6" text-anchor="middle" font-family="Liberation Sans, sans-serif">0.6</text>
<text x="338.58" y="343.20" font-size="9.6" text-anchor="middle" font-family="Liberation Sans, sans-serif">0.8</text>
<text x="357.15" y="343.20" font-size="9.6" text-anchor="middle" font-family="Liberation Sans, sans-serif">1</text>
<text x="375.72" y="343.20" font-size="9.6" text-anchor="middle" font-family="Liberation Sans, sans-serif">1.2</text>
<text x="394.29" y="343.20" font-size="9.6" text-anchor="middle" font-family="Liberation Sans, sans-serif">1.4</text>
<text x="412.86" y="343.20" font-size="9.6" text-anchor="middle" font-family="Liberation Sans, sans-serif">1.6</text>
<text x="431.43" y="343.20" font-size="9.6" text-anchor="middle" font-family="Liberation Sans, sans-serif">1.8</text>
<text x="450.00" y="343.20" font-size="9.6" text-anchor="middle" font-family="Liberation Sans, sans-serif">2</text>
<text x="262.40" y="337.30" font-size="9.6" text-anchor="end" font-family="Liberation Sans, sans-serif">10<tspan font-size="7.1" dy="-3.6">-5</tspan></text>
<text x="262.40" y="312.57" font-size="9.6" text-anchor="end" font-family="Liberation Sans, sans-serif">10<tspan font-size="7.1" dy="-3.6">-4</tspan></text>
<text x="262.40" y="287.83" font-size="9.6" text-anchor="end" font-family="Liberation Sans, sans-serif">10<tspan font-size="7.1" dy="-3.6">-3</tspan></text>
<text x="262.40" y="263.10" font-size="9.6" text-anchor="end" font-family="Liberation Sans, sans-serif">10<tspan font-size="7.1" dy="-3.6">-2</tspan></text>
<text x="262.40" y="238.37" font-size="9.6" text-anchor="end" font-family="Liberation Sans, sans-serif">10<tspan font-size="7.1" dy="-3.6">-1</tspan></text>
<text x="262.40" y="212.63" font-size="9.6" text-anchor="end" font-family="Liberation Sans, sans-serif">1</text>
<text x="262.40" y="189.10" font-size="9.6" text-anchor="end" font-family="Liberation Sans, sans-serif">10</text>
<text x="450.80" y="352.10" font-size="8.15" text-anchor="end" font-family="Liberation Sans, sans-serif">p<tspan font-size="5.4" dy="3.2">T</tspan><tspan dy="-3.2">D SM quarks from dark sector / </tspan>p<tspan font-size="5.4" dy="3.2">T</tspan><tspan dy="-3.2">D (GenJet, R=0.8)</tspan></text>
<text transform="translate(242.10,210.60) rotate(-90)" font-size="13" font-family="Liberation Sans, sans-serif">N<tspan font-size="8.3" dy="4.4">Jets</tspan></text>
<line x1="273.35" y1="196.45" x2="287.55" y2="196.45" stroke="#0a9a0a" stroke-width="1.3" /><text x="289.70" y="200.35" font-size="12.2" font-family="Liberation Sans, sans-serif">1</text><text x="298.90" y="200.35" font-size="12.2" textLength="7.1" lengthAdjust="spacingAndGlyphs" font-family="Liberation Sans, sans-serif">π</text><text x="305.50" y="203.75" font-size="7.7" font-family="Liberation Sans, sans-serif">D</text><text x="314.40" y="200.35" font-size="12.2" textLength="31.8" lengthAdjust="spacingAndGlyphs" font-family="Liberation Sans, sans-serif">decay</text>
<line x1="352.70" y1="196.45" x2="366.90" y2="196.45" stroke="#ff6666" stroke-width="1.3" stroke-dasharray="2.3,2.3"/><text x="369.40" y="200.35" font-size="12.2" font-family="Liberation Sans, sans-serif">2</text><text x="380.10" y="200.35" font-size="12.2" textLength="7.1" lengthAdjust="spacingAndGlyphs" font-family="Liberation Sans, sans-serif">π</text><text x="387.00" y="203.75" font-size="7.7" font-family="Liberation Sans, sans-serif">D</text><text x="395.60" y="200.35" font-size="12.2" textLength="31.8" lengthAdjust="spacingAndGlyphs" font-family="Liberation Sans, sans-serif">decay</text>
<line x1="273.35" y1="214.70" x2="287.55" y2="214.70" stroke="#3399ff" stroke-width="1.3" stroke-dasharray="9.2,2.3"/><text x="290.10" y="218.60" font-size="12.2" font-family="Liberation Sans, sans-serif">3</text><text x="300.80" y="218.60" font-size="12.2" textLength="7.1" lengthAdjust="spacingAndGlyphs" font-family="Liberation Sans, sans-serif">π</text><text x="307.70" y="222.00" font-size="7.7" font-family="Liberation Sans, sans-serif">D</text><text x="316.30" y="218.60" font-size="12.2" textLength="31.8" lengthAdjust="spacingAndGlyphs" font-family="Liberation Sans, sans-serif">decay</text>
<clipPath id="c6"><rect x="493.8" y="182.45" width="187.7" height="151.65000000000003"/></clipPath>
<rect x="494.8" y="182.45" width="185.7" height="150.85000000000002" fill="none" stroke="#000" stroke-width="0.85"/>
<g clip-path="url(#c6)" fill="none" stroke-linejoin="miter">
<path d="M494.80,333.30L498.51,333.30L498.51,333.30L502.23,333.30L502.23,333.30L505.94,333.30L505.94,333.30L509.66,333.30L509.66,333.30L513.37,333.30L513.37,333.30L517.08,333.30L517.08,333.30L520.80,333.30L520.80,333.30L524.51,333.30L524.51,333.30L528.23,333.30L528.23,333.30L531.94,333.30L531.94,333.30L535.65,333.30L535.65,333.30L539.37,333.30L539.37,333.30L543.08,333.30L543.08,333.30L546.80,333.30L546.80,333.30L550.51,333.30L550.51,333.30L554.22,333.30L554.22,333.30L557.94,333.30L557.94,333.30L561.65,333.30L561.65,333.30L565.37,333.30L565.37,333.30L569.08,333.30L569.08,333.30L572.79,333.30L572.79,333.30L576.51,333.30L576.51,333.30L580.22,333.30L580.22,333.30L583.94,333.30L583.94,333.30L587.65,333.30L587.65,333.30L591.36,333.30L591.36,273.30L595.08,273.30L595.08,273.30L598.79,273.30L598.79,333.30L602.51,333.30L602.51,333.30L606.22,333.30L606.22,273.30L609.93,273.30L609.93,273.30L613.65,273.30L613.65,273.30L617.36,273.30L617.36,333.30L621.08,333.30L621.08,273.30L624.79,273.30L624.79,273.30L628.50,273.30L628.50,333.30L632.22,333.30L632.22,273.30L635.93,273.30L635.93,256.80L639.65,256.80L639.65,262.10L643.36,262.10L643.36,247.50L647.07,247.50L647.07,247.50L650.79,247.50L650.79,252.80L654.50,252.80L654.50,244.00L658.22,244.00L658.22,243.20L661.93,243.20L661.93,238.70L665.64,238.70L665.64,237.00L669.36,237.00L669.36,234.70L673.07,234.70L673.07,234.00L676.79,234.00L676.79,230.00L680.50,230.00" stroke="#0a9a0a" stroke-width="1.25"/>
<path d="M494.80,333.30L498.51,333.30L498.51,333.30L502.23,333.30L502.23,333.30L505.94,333.30L505.94,333.30L509.66,333.30L509.66,333.30L513.37,333.30L513.37,333.30L517.08,333.30L517.08,333.30L520.80,333.30L520.80,333.30L524.51,333.30L524.51,333.30L528.23,333.30L528.23,333.30L531.94,333.30L531.94,333.30L535.65,333.30L535.65,333.30L539.37,333.30L539.37,333.30L543.08,333.30L543.08,333.30L546.80,333.30L546.80,333.30L550.51,333.30L550.51,333.30L554.22,333.30L554.22,333.30L557.94,333.30L557.94,333.30L561.65,333.30L561.65,333.30L565.37,333.30L565.37,333.30L569.08,333.30L569.08,285.80L572.79,285.80L572.79,333.30L576.51,333.30L576.51,333.30L580.22,333.30L580.22,285.80L583.94,285.80L583.94,274.20L587.65,274.20L587.65,333.30L591.36,333.30L591.36,333.30L595.08,333.30L595.08,278.40L598.79,278.40L598.79,333.30L602.51,333.30L602.51,285.80L606.22,285.80L606.22,285.80L609.93,285.80L609.93,285.80L613.65,285.80L613.65,278.40L617.36,278.40L617.36,269.50L621.08,269.50L621.08,267.70L624.79,267.70L624.79,267.00L628.50,267.00L628.50,271.20L632.22,271.20L632.22,259.80L635.93,259.80L635.93,257.20L639.65,257.20L639.65,254.50L643.36,254.50L643.36,252.80L647.07,252.80L647.07,251.00L650.79,251.00L650.79,248.40L654.50,248.40L654.50,244.00L658.22,244.00L658.22,242.20L661.93,242.20L661.93,239.60L665.64,239.60L665.64,237.50L669.36,237.50L669.36,235.70L673.07,235.70L673.07,234.00L676.79,234.00L676.79,231.70L680.50,231.70" stroke="#ff6666" stroke-width="1.25" stroke-dasharray="2.3,2.3"/>
<path d="M494.80,333.30L498.51,333.30L498.51,333.30L502.23,333.30L502.23,333.30L505.94,333.30L505.94,333.30L509.66,333.30L509.66,333.30L513.37,333.30L513.37,333.30L517.08,333.30L517.08,333.30L520.80,333.30L520.80,333.30L524.51,333.30L524.51,333.30L528.23,333.30L528.23,333.30L531.94,333.30L531.94,333.30L535.65,333.30L535.65,333.30L539.37,333.30L539.37,333.30L543.08,333.30L543.08,333.30L546.80,333.30L546.80,333.30L550.51,333.30L550.51,333.30L554.22,333.30L554.22,333.30L557.94,333.30L557.94,333.30L561.65,333.30L561.65,292.70L565.37,292.70L565.37,333.30L569.08,333.30L569.08,292.70L572.79,292.70L572.79,333.30L576.51,333.30L576.51,292.70L580.22,292.70L580.22,333.30L583.94,333.30L583.94,333.30L587.65,333.30L587.65,333.30L591.36,333.30L591.36,284.80L595.08,284.80L595.08,281.00L598.79,281.00L598.79,281.00L602.51,281.00L602.51,292.70L606.22,292.70L606.22,275.20L609.93,275.20L609.93,281.00L613.65,281.00L613.65,284.80L617.36,284.80L617.36,281.00L621.08,281.00L621.08,271.20L624.79,271.20L624.79,271.20L628.50,271.20L628.50,260.70L632.22,260.70L632.22,261.60L635.93,261.60L635.93,257.20L639.65,257.20L639.65,252.80L643.36,252.80L643.36,251.90L647.07,251.90L647.07,249.30L650.79,249.30L650.79,247.50L654.50,247.50L654.50,244.00L658.22,244.00L658.22,241.40L661.93,241.40L661.93,238.70L665.64,238.70L665.64,237.00L669.36,237.00L669.36,235.70L673.07,235.70L673.07,233.50L676.79,233.50L676.79,231.20L680.50,231.20" stroke="#3399ff" stroke-width="1.25" stroke-dasharray="9.2,2.3"/>
</g>
<path d="M494.80,333.3v-5.2M494.80,182.45v5.2M499.44,333.3v-2.5M499.44,182.45v2.5M504.09,333.3v-2.5M504.09,182.45v2.5M508.73,333.3v-2.5M508.73,182.45v2.5M513.37,333.3v-5.2M513.37,182.45v5.2M518.01,333.3v-2.5M518.01,182.45v2.5M522.65,333.3v-2.5M522.65,182.45v2.5M527.30,333.3v-2.5M527.30,182.45v2.5M531.94,333.3v-5.2M531.94,182.45v5.2M536.58,333.3v-2.5M536.58,182.45v2.5M541.23,333.3v-2.5M541.23,182.45v2.5M545.87,333.3v-2.5M545.87,182.45v2.5M550.51,333.3v-5.2M550.51,182.45v5.2M555.15,333.3v-2.5M555.15,182.45v2.5M559.79,333.3v-2.5M559.79,182.45v2.5M564.44,333.3v-2.5M564.44,182.45v2.5M569.08,333.3v-5.2M569.08,182.45v5.2M573.72,333.3v-2.5M573.72,182.45v2.5M578.37,333.3v-2.5M578.37,182.45v2.5M583.01,333.3v-2.5M583.01,182.45v2.5M587.65,333.3v-5.2M587.65,182.45v5.2M592.29,333.3v-2.5M592.29,182.45v2.5M596.93,333.3v-2.5M596.93,182.45v2.5M601.58,333.3v-2.5M601.58,182.45v2.5M606.22,333.3v-5.2M606.22,182.45v5.2M610.86,333.3v-2.5M610.86,182.45v2.5M615.50,333.3v-2.5M615.50,182.45v2.5M620.15,333.3v-2.5M620.15,182.45v2.5M624.79,333.3v-5.2M624.79,182.45v5.2M629.43,333.3v-2.5M629.43,182.45v2.5M634.08,333.3v-2.5M634.08,182.45v2.5M638.72,333.3v-2.5M638.72,182.45v2.5M643.36,333.3v-5.2M643.36,182.45v5.2M648.00,333.3v-2.5M648.00,182.45v2.5M652.64,333.3v-2.5M652.64,182.45v2.5M657.29,333.3v-2.5M657.29,182.45v2.5M661.93,333.3v-5.2M661.93,182.45v5.2M666.57,333.3v-2.5M666.57,182.45v2.5M671.22,333.3v-2.5M671.22,182.45v2.5M675.86,333.3v-2.5M675.86,182.45v2.5M680.50,333.3v-5.2M680.50,182.45v5.2M494.8,333.30h4.6M680.5,333.30h-4.6M494.8,326.17h2.3M680.5,326.17h-2.3M494.8,322.00h2.3M680.5,322.00h-2.3M494.8,319.04h2.3M680.5,319.04h-2.3M494.8,316.75h2.3M680.5,316.75h-2.3M494.8,314.87h2.3M680.5,314.87h-2.3M494.8,313.29h2.3M680.5,313.29h-2.3M494.8,311.91h2.3M680.5,311.91h-2.3M494.8,310.70h2.3M680.5,310.70h-2.3M494.8,309.62h4.6M680.5,309.62h-4.6M494.8,302.49h2.3M680.5,302.49h-2.3M494.8,298.32h2.3M680.5,298.32h-2.3M494.8,295.36h2.3M680.5,295.36h-2.3M494.8,293.06h2.3M680.5,293.06h-2.3M494.8,291.19h2.3M680.5,291.19h-2.3M494.8,289.60h2.3M680.5,289.60h-2.3M494.8,288.23h2.3M680.5,288.23h-2.3M494.8,287.02h2.3M680.5,287.02h-2.3M494.8,285.93h4.6M680.5,285.93h-4.6M494.8,278.80h2.3M680.5,278.80h-2.3M494.8,274.63h2.3M680.5,274.63h-2.3M494.8,271.67h2.3M680.5,271.67h-2.3M494.8,269.38h2.3M680.5,269.38h-2.3M494.8,267.50h2.3M680.5,267.50h-2.3M494.8,265.92h2.3M680.5,265.92h-2.3M494.8,264.55h2.3M680.5,264.55h-2.3M494.8,263.33h2.3M680.5,263.33h-2.3M494.8,262.25h4.6M680.5,262.25h-4.6M494.8,255.12h2.3M680.5,255.12h-2.3M494.8,250.95h2.3M680.5,250.95h-2.3M494.8,247.99h2.3M680.5,247.99h-2.3M494.8,245.70h2.3M680.5,245.70h-2.3M494.8,243.82h2.3M680.5,243.82h-2.3M494.8,242.24h2.3M680.5,242.24h-2.3M494.8,240.86h2.3M680.5,240.86h-2.3M494.8,239.65h2.3M680.5,239.65h-2.3M494.8,238.57h4.6M680.5,238.57h-4.6M494.8,231.44h2.3M680.5,231.44h-2.3M494.8,227.27h2.3M680.5,227.27h-2.3M494.8,224.31h2.3M680.5,224.31h-2.3M494.8,222.01h2.3M680.5,222.01h-2.3M494.8,220.14h2.3M680.5,220.14h-2.3M494.8,218.55h2.3M680.5,218.55h-2.3M494.8,217.18h2.3M680.5,217.18h-2.3M494.8,215.97h2.3M680.5,215.97h-2.3M494.8,214.88h4.6M680.5,214.88h-4.6M494.8,207.75h2.3M680.5,207.75h-2.3M494.8,203.58h2.3M680.5,203.58h-2.3M494.8,200.62h2.3M680.5,200.62h-2.3M494.8,198.33h2.3M680.5,198.33h-2.3M494.8,196.45h2.3M680.5,196.45h-2.3M494.8,194.87h2.3M680.5,194.87h-2.3M494.8,193.50h2.3M680.5,193.50h-2.3M494.8,192.28h2.3M680.5,192.28h-2.3M494.8,191.20h4.6M680.5,191.20h-4.6M494.8,184.07h2.3M680.5,184.07h-2.3" stroke="#000" stroke-width="0.7" fill="none"/>
<text x="495.00" y="343.20" font-size="9.6" text-anchor="middle" font-family="Liberation Sans, sans-serif">0</text>
<text x="513.57" y="343.20" font-size="9.6" text-anchor="middle" font-family="Liberation Sans, sans-serif">0.2</text>
<text x="532.14" y="343.20" font-size="9.6" text-anchor="middle" font-family="Liberation Sans, sans-serif">0.4</text>
<text x="550.71" y="343.20" font-size="9.6" text-anchor="middle" font-family="Liberation Sans, sans-serif">0.6</text>
<text x="569.28" y="343.20" font-size="9.6" text-anchor="middle" font-family="Liberation Sans, sans-serif">0.8</text>
<text x="587.85" y="343.20" font-size="9.6" text-anchor="middle" font-family="Liberation Sans, sans-serif">1</text>
<text x="606.42" y="343.20" font-size="9.6" text-anchor="middle" font-family="Liberation Sans, sans-serif">1.2</text>
<text x="624.99" y="343.20" font-size="9.6" text-anchor="middle" font-family="Liberation Sans, sans-serif">1.4</text>
<text x="643.56" y="343.20" font-size="9.6" text-anchor="middle" font-family="Liberation Sans, sans-serif">1.6</text>
<text x="662.13" y="343.20" font-size="9.6" text-anchor="middle" font-family="Liberation Sans, sans-serif">1.8</text>
<text x="680.70" y="343.20" font-size="9.6" text-anchor="middle" font-family="Liberation Sans, sans-serif">2</text>
<text x="493.10" y="337.30" font-size="9.6" text-anchor="end" font-family="Liberation Sans, sans-serif">10<tspan font-size="7.1" dy="-3.6">-5</tspan></text>
<text x="493.10" y="313.62" font-size="9.6" text-anchor="end" font-family="Liberation Sans, sans-serif">10<tspan font-size="7.1" dy="-3.6">-4</tspan></text>
<text x="493.10" y="289.93" font-size="9.6" text-anchor="end" font-family="Liberation Sans, sans-serif">10<tspan font-size="7.1" dy="-3.6">-3</tspan></text>
<text x="493.10" y="266.25" font-size="9.6" text-anchor="end" font-family="Liberation Sans, sans-serif">10<tspan font-size="7.1" dy="-3.6">-2</tspan></text>
<text x="493.10" y="242.57" font-size="9.6" text-anchor="end" font-family="Liberation Sans, sans-serif">10<tspan font-size="7.1" dy="-3.6">-1</tspan></text>
<text x="493.10" y="217.88" font-size="9.6" text-anchor="end" font-family="Liberation Sans, sans-serif">1</text>
<text x="493.10" y="194.20" font-size="9.6" text-anchor="end" font-family="Liberation Sans, sans-serif">10</text>
<text x="681.50" y="352.10" font-size="8.15" text-anchor="end" font-family="Liberation Sans, sans-serif">p<tspan font-size="5.4" dy="3.2">T</tspan><tspan dy="-3.2">D Unstable dark hadrons / </tspan>p<tspan font-size="5.4" dy="3.2">T</tspan><tspan dy="-3.2">D (GenJet, R=0.8)</tspan></text>
<text transform="translate(472.80,210.60) rotate(-90)" font-size="13" font-family="Liberation Sans, sans-serif">N<tspan font-size="8.3" dy="4.4">Jets</tspan></text>
<line x1="504.05" y1="196.45" x2="518.25" y2="196.45" stroke="#0a9a0a" stroke-width="1.3" /><text x="520.40" y="200.35" font-size="12.2" font-family="Liberation Sans, sans-serif">1</text><text x="529.60" y="200.35" font-size="12.2" textLength="7.1" lengthAdjust="spacingAndGlyphs" font-family="Liberation Sans, sans-serif">π</text><text x="536.20" y="203.75" font-size="7.7" font-family="Liberation Sans, sans-serif">D</text><text x="545.10" y="200.35" font-size="12.2" textLength="31.8" lengthAdjust="spacingAndGlyphs" font-family="Liberation Sans, sans-serif">decay</text>
<line x1="583.40" y1="196.45" x2="597.60" y2="196.45" stroke="#ff6666" stroke-width="1.3" stroke-dasharray="2.3,2.3"/><text x="600.10" y="200.35" font-size="12.2" font-family="Liberation Sans, sans-serif">2</text><text x="610.80" y="200.35" font-size="12.2" textLength="7.1" lengthAdjust="spacingAndGlyphs" font-family="Liberation Sans, sans-serif">π</text><text x="617.70" y="203.75" font-size="7.7" font-family="Liberation Sans, sans-serif">D</text><text x="626.30" y="200.35" font-size="12.2" textLength="31.8" lengthAdjust="spacingAndGlyphs" font-family="Liberation Sans, sans-serif">decay</text>
<line x1="504.05" y1="214.70" x2="518.25" y2="214.70" stroke="#3399ff" stroke-width="1.3" stroke-dasharray="9.2,2.3"/><text x="520.80" y="218.60" font-size="12.2" font-family="Liberation Sans, sans-serif">3</text><text x="531.50" y="218.60" font-size="12.2" textLength="7.1" lengthAdjust="spacingAndGlyphs" font-family="Liberation Sans, sans-serif">π</text><text x="538.40" y="222.00" font-size="7.7" font-family="Liberation Sans, sans-serif">D</text><text x="547.00" y="218.60" font-size="12.2" textLength="31.8" lengthAdjust="spacingAndGlyphs" font-family="Liberation Sans, sans-serif">decay</text>
</svg></body></html>
